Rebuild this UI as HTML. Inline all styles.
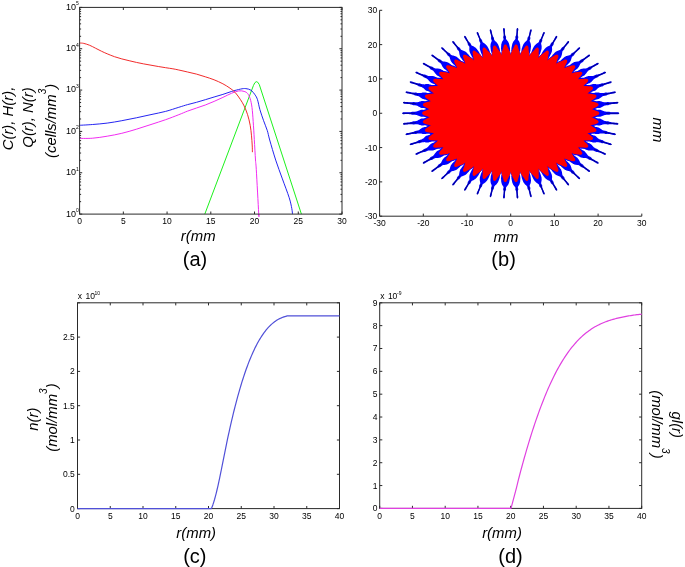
<!DOCTYPE html>
<html><head><meta charset="utf-8"><title>Figure</title>
<style>
html,body{margin:0;padding:0;background:#fff;}
body{width:685px;height:567px;overflow:hidden;}
svg{display:block;font-family:"Liberation Sans", sans-serif;will-change:transform;}
</style></head><body>
<svg width="685" height="567" viewBox="0 0 685 567" fill="#000">
<line x1="79.6" y1="214.1" x2="79.6" y2="211.5" stroke="#2a2a2a" stroke-width="1"/>
<line x1="79.6" y1="7.4" x2="79.6" y2="10" stroke="#2a2a2a" stroke-width="1"/>
<text x="79.6" y="224.2" font-size="8.5" text-anchor="middle">0</text>
<line x1="123.33" y1="214.1" x2="123.33" y2="211.5" stroke="#2a2a2a" stroke-width="1"/>
<line x1="123.33" y1="7.4" x2="123.33" y2="10" stroke="#2a2a2a" stroke-width="1"/>
<text x="123.33" y="224.2" font-size="8.5" text-anchor="middle">5</text>
<line x1="167.07" y1="214.1" x2="167.07" y2="211.5" stroke="#2a2a2a" stroke-width="1"/>
<line x1="167.07" y1="7.4" x2="167.07" y2="10" stroke="#2a2a2a" stroke-width="1"/>
<text x="167.07" y="224.2" font-size="8.5" text-anchor="middle">10</text>
<line x1="210.8" y1="214.1" x2="210.8" y2="211.5" stroke="#2a2a2a" stroke-width="1"/>
<line x1="210.8" y1="7.4" x2="210.8" y2="10" stroke="#2a2a2a" stroke-width="1"/>
<text x="210.8" y="224.2" font-size="8.5" text-anchor="middle">15</text>
<line x1="254.53" y1="214.1" x2="254.53" y2="211.5" stroke="#2a2a2a" stroke-width="1"/>
<line x1="254.53" y1="7.4" x2="254.53" y2="10" stroke="#2a2a2a" stroke-width="1"/>
<text x="254.53" y="224.2" font-size="8.5" text-anchor="middle">20</text>
<line x1="298.27" y1="214.1" x2="298.27" y2="211.5" stroke="#2a2a2a" stroke-width="1"/>
<line x1="298.27" y1="7.4" x2="298.27" y2="10" stroke="#2a2a2a" stroke-width="1"/>
<text x="298.27" y="224.2" font-size="8.5" text-anchor="middle">25</text>
<line x1="342" y1="214.1" x2="342" y2="211.5" stroke="#2a2a2a" stroke-width="1"/>
<line x1="342" y1="7.4" x2="342" y2="10" stroke="#2a2a2a" stroke-width="1"/>
<text x="342" y="224.2" font-size="8.5" text-anchor="middle">30</text>
<line x1="79.6" y1="214.1" x2="82.2" y2="214.1" stroke="#2a2a2a" stroke-width="1"/>
<line x1="342" y1="214.1" x2="339.4" y2="214.1" stroke="#2a2a2a" stroke-width="1"/>
<line x1="79.6" y1="201.66" x2="81.1" y2="201.66" stroke="#2a2a2a" stroke-width="1"/>
<line x1="342" y1="201.66" x2="340.5" y2="201.66" stroke="#2a2a2a" stroke-width="1"/>
<line x1="79.6" y1="194.38" x2="81.1" y2="194.38" stroke="#2a2a2a" stroke-width="1"/>
<line x1="342" y1="194.38" x2="340.5" y2="194.38" stroke="#2a2a2a" stroke-width="1"/>
<line x1="79.6" y1="189.21" x2="81.1" y2="189.21" stroke="#2a2a2a" stroke-width="1"/>
<line x1="342" y1="189.21" x2="340.5" y2="189.21" stroke="#2a2a2a" stroke-width="1"/>
<line x1="79.6" y1="185.2" x2="81.1" y2="185.2" stroke="#2a2a2a" stroke-width="1"/>
<line x1="342" y1="185.2" x2="340.5" y2="185.2" stroke="#2a2a2a" stroke-width="1"/>
<line x1="79.6" y1="181.93" x2="81.1" y2="181.93" stroke="#2a2a2a" stroke-width="1"/>
<line x1="342" y1="181.93" x2="340.5" y2="181.93" stroke="#2a2a2a" stroke-width="1"/>
<line x1="79.6" y1="179.16" x2="81.1" y2="179.16" stroke="#2a2a2a" stroke-width="1"/>
<line x1="342" y1="179.16" x2="340.5" y2="179.16" stroke="#2a2a2a" stroke-width="1"/>
<line x1="79.6" y1="176.77" x2="81.1" y2="176.77" stroke="#2a2a2a" stroke-width="1"/>
<line x1="342" y1="176.77" x2="340.5" y2="176.77" stroke="#2a2a2a" stroke-width="1"/>
<line x1="79.6" y1="174.65" x2="81.1" y2="174.65" stroke="#2a2a2a" stroke-width="1"/>
<line x1="342" y1="174.65" x2="340.5" y2="174.65" stroke="#2a2a2a" stroke-width="1"/>
<text x="75.9" y="216.5" font-size="9" text-anchor="end">10</text>
<text x="76.1" y="211.9" font-size="5" text-anchor="start">0</text>
<line x1="79.6" y1="172.76" x2="82.2" y2="172.76" stroke="#2a2a2a" stroke-width="1"/>
<line x1="342" y1="172.76" x2="339.4" y2="172.76" stroke="#2a2a2a" stroke-width="1"/>
<line x1="79.6" y1="160.32" x2="81.1" y2="160.32" stroke="#2a2a2a" stroke-width="1"/>
<line x1="342" y1="160.32" x2="340.5" y2="160.32" stroke="#2a2a2a" stroke-width="1"/>
<line x1="79.6" y1="153.04" x2="81.1" y2="153.04" stroke="#2a2a2a" stroke-width="1"/>
<line x1="342" y1="153.04" x2="340.5" y2="153.04" stroke="#2a2a2a" stroke-width="1"/>
<line x1="79.6" y1="147.87" x2="81.1" y2="147.87" stroke="#2a2a2a" stroke-width="1"/>
<line x1="342" y1="147.87" x2="340.5" y2="147.87" stroke="#2a2a2a" stroke-width="1"/>
<line x1="79.6" y1="143.86" x2="81.1" y2="143.86" stroke="#2a2a2a" stroke-width="1"/>
<line x1="342" y1="143.86" x2="340.5" y2="143.86" stroke="#2a2a2a" stroke-width="1"/>
<line x1="79.6" y1="140.59" x2="81.1" y2="140.59" stroke="#2a2a2a" stroke-width="1"/>
<line x1="342" y1="140.59" x2="340.5" y2="140.59" stroke="#2a2a2a" stroke-width="1"/>
<line x1="79.6" y1="137.82" x2="81.1" y2="137.82" stroke="#2a2a2a" stroke-width="1"/>
<line x1="342" y1="137.82" x2="340.5" y2="137.82" stroke="#2a2a2a" stroke-width="1"/>
<line x1="79.6" y1="135.43" x2="81.1" y2="135.43" stroke="#2a2a2a" stroke-width="1"/>
<line x1="342" y1="135.43" x2="340.5" y2="135.43" stroke="#2a2a2a" stroke-width="1"/>
<line x1="79.6" y1="133.31" x2="81.1" y2="133.31" stroke="#2a2a2a" stroke-width="1"/>
<line x1="342" y1="133.31" x2="340.5" y2="133.31" stroke="#2a2a2a" stroke-width="1"/>
<text x="75.9" y="175.16" font-size="9" text-anchor="end">10</text>
<text x="76.1" y="170.56" font-size="5" text-anchor="start">1</text>
<line x1="79.6" y1="131.42" x2="82.2" y2="131.42" stroke="#2a2a2a" stroke-width="1"/>
<line x1="342" y1="131.42" x2="339.4" y2="131.42" stroke="#2a2a2a" stroke-width="1"/>
<line x1="79.6" y1="118.98" x2="81.1" y2="118.98" stroke="#2a2a2a" stroke-width="1"/>
<line x1="342" y1="118.98" x2="340.5" y2="118.98" stroke="#2a2a2a" stroke-width="1"/>
<line x1="79.6" y1="111.7" x2="81.1" y2="111.7" stroke="#2a2a2a" stroke-width="1"/>
<line x1="342" y1="111.7" x2="340.5" y2="111.7" stroke="#2a2a2a" stroke-width="1"/>
<line x1="79.6" y1="106.53" x2="81.1" y2="106.53" stroke="#2a2a2a" stroke-width="1"/>
<line x1="342" y1="106.53" x2="340.5" y2="106.53" stroke="#2a2a2a" stroke-width="1"/>
<line x1="79.6" y1="102.52" x2="81.1" y2="102.52" stroke="#2a2a2a" stroke-width="1"/>
<line x1="342" y1="102.52" x2="340.5" y2="102.52" stroke="#2a2a2a" stroke-width="1"/>
<line x1="79.6" y1="99.25" x2="81.1" y2="99.25" stroke="#2a2a2a" stroke-width="1"/>
<line x1="342" y1="99.25" x2="340.5" y2="99.25" stroke="#2a2a2a" stroke-width="1"/>
<line x1="79.6" y1="96.48" x2="81.1" y2="96.48" stroke="#2a2a2a" stroke-width="1"/>
<line x1="342" y1="96.48" x2="340.5" y2="96.48" stroke="#2a2a2a" stroke-width="1"/>
<line x1="79.6" y1="94.09" x2="81.1" y2="94.09" stroke="#2a2a2a" stroke-width="1"/>
<line x1="342" y1="94.09" x2="340.5" y2="94.09" stroke="#2a2a2a" stroke-width="1"/>
<line x1="79.6" y1="91.97" x2="81.1" y2="91.97" stroke="#2a2a2a" stroke-width="1"/>
<line x1="342" y1="91.97" x2="340.5" y2="91.97" stroke="#2a2a2a" stroke-width="1"/>
<text x="75.9" y="133.82" font-size="9" text-anchor="end">10</text>
<text x="76.1" y="129.22" font-size="5" text-anchor="start">2</text>
<line x1="79.6" y1="90.08" x2="82.2" y2="90.08" stroke="#2a2a2a" stroke-width="1"/>
<line x1="342" y1="90.08" x2="339.4" y2="90.08" stroke="#2a2a2a" stroke-width="1"/>
<line x1="79.6" y1="77.64" x2="81.1" y2="77.64" stroke="#2a2a2a" stroke-width="1"/>
<line x1="342" y1="77.64" x2="340.5" y2="77.64" stroke="#2a2a2a" stroke-width="1"/>
<line x1="79.6" y1="70.36" x2="81.1" y2="70.36" stroke="#2a2a2a" stroke-width="1"/>
<line x1="342" y1="70.36" x2="340.5" y2="70.36" stroke="#2a2a2a" stroke-width="1"/>
<line x1="79.6" y1="65.19" x2="81.1" y2="65.19" stroke="#2a2a2a" stroke-width="1"/>
<line x1="342" y1="65.19" x2="340.5" y2="65.19" stroke="#2a2a2a" stroke-width="1"/>
<line x1="79.6" y1="61.18" x2="81.1" y2="61.18" stroke="#2a2a2a" stroke-width="1"/>
<line x1="342" y1="61.18" x2="340.5" y2="61.18" stroke="#2a2a2a" stroke-width="1"/>
<line x1="79.6" y1="57.91" x2="81.1" y2="57.91" stroke="#2a2a2a" stroke-width="1"/>
<line x1="342" y1="57.91" x2="340.5" y2="57.91" stroke="#2a2a2a" stroke-width="1"/>
<line x1="79.6" y1="55.14" x2="81.1" y2="55.14" stroke="#2a2a2a" stroke-width="1"/>
<line x1="342" y1="55.14" x2="340.5" y2="55.14" stroke="#2a2a2a" stroke-width="1"/>
<line x1="79.6" y1="52.75" x2="81.1" y2="52.75" stroke="#2a2a2a" stroke-width="1"/>
<line x1="342" y1="52.75" x2="340.5" y2="52.75" stroke="#2a2a2a" stroke-width="1"/>
<line x1="79.6" y1="50.63" x2="81.1" y2="50.63" stroke="#2a2a2a" stroke-width="1"/>
<line x1="342" y1="50.63" x2="340.5" y2="50.63" stroke="#2a2a2a" stroke-width="1"/>
<text x="75.9" y="92.48" font-size="9" text-anchor="end">10</text>
<text x="76.1" y="87.88" font-size="5" text-anchor="start">3</text>
<line x1="79.6" y1="48.74" x2="82.2" y2="48.74" stroke="#2a2a2a" stroke-width="1"/>
<line x1="342" y1="48.74" x2="339.4" y2="48.74" stroke="#2a2a2a" stroke-width="1"/>
<line x1="79.6" y1="36.3" x2="81.1" y2="36.3" stroke="#2a2a2a" stroke-width="1"/>
<line x1="342" y1="36.3" x2="340.5" y2="36.3" stroke="#2a2a2a" stroke-width="1"/>
<line x1="79.6" y1="29.02" x2="81.1" y2="29.02" stroke="#2a2a2a" stroke-width="1"/>
<line x1="342" y1="29.02" x2="340.5" y2="29.02" stroke="#2a2a2a" stroke-width="1"/>
<line x1="79.6" y1="23.85" x2="81.1" y2="23.85" stroke="#2a2a2a" stroke-width="1"/>
<line x1="342" y1="23.85" x2="340.5" y2="23.85" stroke="#2a2a2a" stroke-width="1"/>
<line x1="79.6" y1="19.84" x2="81.1" y2="19.84" stroke="#2a2a2a" stroke-width="1"/>
<line x1="342" y1="19.84" x2="340.5" y2="19.84" stroke="#2a2a2a" stroke-width="1"/>
<line x1="79.6" y1="16.57" x2="81.1" y2="16.57" stroke="#2a2a2a" stroke-width="1"/>
<line x1="342" y1="16.57" x2="340.5" y2="16.57" stroke="#2a2a2a" stroke-width="1"/>
<line x1="79.6" y1="13.8" x2="81.1" y2="13.8" stroke="#2a2a2a" stroke-width="1"/>
<line x1="342" y1="13.8" x2="340.5" y2="13.8" stroke="#2a2a2a" stroke-width="1"/>
<line x1="79.6" y1="11.41" x2="81.1" y2="11.41" stroke="#2a2a2a" stroke-width="1"/>
<line x1="342" y1="11.41" x2="340.5" y2="11.41" stroke="#2a2a2a" stroke-width="1"/>
<line x1="79.6" y1="9.29" x2="81.1" y2="9.29" stroke="#2a2a2a" stroke-width="1"/>
<line x1="342" y1="9.29" x2="340.5" y2="9.29" stroke="#2a2a2a" stroke-width="1"/>
<text x="75.9" y="51.14" font-size="9" text-anchor="end">10</text>
<text x="76.1" y="46.54" font-size="5" text-anchor="start">4</text>
<line x1="79.6" y1="7.4" x2="82.2" y2="7.4" stroke="#2a2a2a" stroke-width="1"/>
<line x1="342" y1="7.4" x2="339.4" y2="7.4" stroke="#2a2a2a" stroke-width="1"/>
<text x="75.9" y="9.8" font-size="9" text-anchor="end">10</text>
<text x="76.1" y="5.2" font-size="5" text-anchor="start">5</text>
<g fill="none" stroke-width="0.95" stroke-linejoin="round">
<path d="M204.8,214.1 L253.4,85.6 Q256.2,78.2 259.3,84.6 L301.4,214.1" stroke="#10f010"/>
<path d="M79.6,125.3 C81.77,125.17 88,124.87 92.6,124.5 C97.2,124.13 102.33,123.73 107.2,123.1 C112.07,122.47 116.93,121.58 121.8,120.7 C126.67,119.82 131.53,118.82 136.4,117.8 C141.27,116.78 146.13,115.67 151,114.6 C155.87,113.53 160.97,112.62 165.6,111.4 C170.23,110.18 175.13,108.43 178.8,107.3 C182.47,106.17 184.65,105.43 187.6,104.6 C190.55,103.77 193.55,103.12 196.5,102.3 C199.45,101.48 202.37,100.58 205.3,99.7 C208.23,98.82 211.17,97.88 214.1,97 C217.03,96.12 219.97,95.33 222.9,94.4 C225.83,93.47 228.77,92.28 231.7,91.4 C234.63,90.52 238.15,89.57 240.5,89.1 C242.85,88.63 244.03,88.4 245.8,88.6 C247.57,88.8 249.57,89.27 251.1,90.3 C252.63,91.33 253.93,93.23 255,94.8 C256.07,96.37 256.68,97.23 257.5,99.7 C258.32,102.17 258.88,106.1 259.9,109.6 C260.92,113.1 262.37,117.2 263.6,120.7 C264.83,124.2 266.28,127.38 267.3,130.6 C268.32,133.82 268.3,135.08 269.7,140 C271.1,144.92 273.58,153.62 275.7,160.1 C277.82,166.58 280.15,172.63 282.4,178.9 C284.65,185.17 287.63,192.77 289.2,197.7 C290.77,202.63 291.25,205.77 291.8,208.5 C292.35,211.23 292.38,213.17 292.5,214.1" stroke="#1818f0"/>
<path d="M79.6,138.4 C81.77,138.37 88,138.57 92.6,138.2 C97.2,137.83 102.33,137.02 107.2,136.2 C112.07,135.38 116.93,134.47 121.8,133.3 C126.67,132.13 131.53,130.67 136.4,129.2 C141.27,127.73 146.13,126.08 151,124.5 C155.87,122.92 160.97,121.33 165.6,119.7 C170.23,118.07 175.13,116.13 178.8,114.7 C182.47,113.27 184.65,112.22 187.6,111.1 C190.55,109.98 193.55,109.02 196.5,108 C199.45,106.98 202.37,106.1 205.3,105 C208.23,103.9 211.17,102.67 214.1,101.4 C217.03,100.13 219.97,98.77 222.9,97.4 C225.83,96.03 229.05,94.28 231.7,93.2 C234.35,92.12 236.73,91.2 238.8,90.9 C240.87,90.6 242.63,90.97 244.1,91.4 C245.57,91.83 246.58,92.27 247.6,93.5 C248.62,94.73 249.47,96.45 250.2,98.8 C250.93,101.15 251.5,103.78 252,107.6 C252.5,111.42 252.82,116.4 253.2,121.7 C253.58,127 253.92,133.02 254.3,139.4 C254.68,145.78 255.17,154.95 255.5,160 C255.83,165.05 255.77,160.82 256.3,169.7 C256.83,178.58 258.28,205.9 258.7,213.3 C259.12,220.7 258.78,213.97 258.8,214.1" stroke="#f020f0"/>
<path d="M79.6,43 C80.3,43.07 82.12,43.02 83.8,43.4 C85.48,43.78 87.75,44.5 89.7,45.3 C91.65,46.1 93.55,47.22 95.5,48.2 C97.45,49.18 99.45,50.27 101.4,51.2 C103.35,52.13 105.02,52.88 107.2,53.8 C109.38,54.72 112.07,55.85 114.5,56.7 C116.93,57.55 119.37,58.23 121.8,58.9 C124.23,59.57 126.67,60.12 129.1,60.7 C131.53,61.28 133.97,61.87 136.4,62.4 C138.83,62.93 141.27,63.43 143.7,63.9 C146.13,64.37 148.57,64.77 151,65.2 C153.43,65.63 155.87,66.08 158.3,66.5 C160.73,66.92 163.17,67.32 165.6,67.7 C168.03,68.08 170.7,68.42 172.9,68.8 C175.1,69.18 176.35,69.47 178.8,70 C181.25,70.53 184.65,71.32 187.6,72 C190.55,72.68 193.55,73.3 196.5,74.1 C199.45,74.9 202.37,75.85 205.3,76.8 C208.23,77.75 211.17,78.63 214.1,79.8 C217.03,80.97 220.25,82.4 222.9,83.8 C225.55,85.2 227.93,86.73 230,88.2 C232.07,89.67 233.55,90.68 235.3,92.6 C237.05,94.52 239.03,97.48 240.5,99.7 C241.97,101.92 242.92,103.4 244.1,105.9 C245.28,108.4 246.58,111.47 247.6,114.7 C248.62,117.93 249.55,121.78 250.2,125.3 C250.85,128.82 251.17,132.52 251.5,135.8 C251.83,139.08 252.05,142.27 252.2,145 C252.35,147.73 252.37,151 252.4,152.2" stroke="#f02020"/>
</g>
<rect x="79.6" y="7.4" width="262.4" height="206.7" fill="none" stroke="#2a2a2a" stroke-width="1"/>
<g transform="translate(0,0)" font-style="italic" font-size="14.9">
<text transform="translate(13,118.5) rotate(-90)" text-anchor="middle">C(r), H(r),</text>
<text transform="translate(32.5,117.5) rotate(-90)" text-anchor="middle">Q(r), N(r)</text>
<text transform="translate(55.5,120.9) rotate(-90)" text-anchor="middle">(cells/mm<tspan dy="-9.5" font-size="10">3</tspan><tspan dy="9.5">)</tspan></text>
</g>
<text x="198.2" y="240.7" font-size="14.9" text-anchor="middle" font-style="italic">r(mm</text>
<text x="195" y="265.6" font-size="20" text-anchor="middle">(a)</text>
<line x1="379.6" y1="216.2" x2="379.6" y2="213.6" stroke="#2a2a2a" stroke-width="1"/>
<text x="379.6" y="226.3" font-size="8.5" text-anchor="middle">-30</text>
<line x1="379.6" y1="216.2" x2="382.2" y2="216.2" stroke="#2a2a2a" stroke-width="1"/>
<text x="377.2" y="219.2" font-size="8.5" text-anchor="end">-30</text>
<line x1="423.3" y1="216.2" x2="423.3" y2="213.6" stroke="#2a2a2a" stroke-width="1"/>
<text x="423.3" y="226.3" font-size="8.5" text-anchor="middle">-20</text>
<line x1="379.6" y1="181.88" x2="382.2" y2="181.88" stroke="#2a2a2a" stroke-width="1"/>
<text x="377.2" y="184.88" font-size="8.5" text-anchor="end">-20</text>
<line x1="467" y1="216.2" x2="467" y2="213.6" stroke="#2a2a2a" stroke-width="1"/>
<text x="467" y="226.3" font-size="8.5" text-anchor="middle">-10</text>
<line x1="379.6" y1="147.57" x2="382.2" y2="147.57" stroke="#2a2a2a" stroke-width="1"/>
<text x="377.2" y="150.57" font-size="8.5" text-anchor="end">-10</text>
<line x1="510.7" y1="216.2" x2="510.7" y2="213.6" stroke="#2a2a2a" stroke-width="1"/>
<text x="510.7" y="226.3" font-size="8.5" text-anchor="middle">0</text>
<line x1="379.6" y1="113.25" x2="382.2" y2="113.25" stroke="#2a2a2a" stroke-width="1"/>
<text x="377.2" y="116.25" font-size="8.5" text-anchor="end">0</text>
<line x1="554.4" y1="216.2" x2="554.4" y2="213.6" stroke="#2a2a2a" stroke-width="1"/>
<text x="554.4" y="226.3" font-size="8.5" text-anchor="middle">10</text>
<line x1="379.6" y1="78.93" x2="382.2" y2="78.93" stroke="#2a2a2a" stroke-width="1"/>
<text x="377.2" y="81.93" font-size="8.5" text-anchor="end">10</text>
<line x1="598.1" y1="216.2" x2="598.1" y2="213.6" stroke="#2a2a2a" stroke-width="1"/>
<text x="598.1" y="226.3" font-size="8.5" text-anchor="middle">20</text>
<line x1="379.6" y1="44.62" x2="382.2" y2="44.62" stroke="#2a2a2a" stroke-width="1"/>
<text x="377.2" y="47.62" font-size="8.5" text-anchor="end">20</text>
<line x1="641.8" y1="216.2" x2="641.8" y2="213.6" stroke="#2a2a2a" stroke-width="1"/>
<text x="641.8" y="226.3" font-size="8.5" text-anchor="middle">30</text>
<line x1="379.6" y1="10.3" x2="382.2" y2="10.3" stroke="#2a2a2a" stroke-width="1"/>
<text x="377.2" y="13.3" font-size="8.5" text-anchor="end">30</text>
<line x1="379.6" y1="10.3" x2="379.6" y2="216.2" stroke="#2a2a2a" stroke-width="1"/>
<line x1="379.6" y1="216.2" x2="641.8" y2="216.2" stroke="#2a2a2a" stroke-width="1"/>
<path fill="#0000ff" d="M590.5,115.8 591.2,115.8 591.8,115.9 592.5,116.0 593.1,116.1 593.8,116.1 594.4,116.2 595.1,116.3 595.7,116.4 596.4,116.5 597.0,116.5 597.7,116.6 598.3,116.7 599.0,116.7 599.6,116.7 600.3,116.7 600.9,116.6 601.6,116.3 602.2,116.1 602.9,115.8 603.5,115.5 604.2,115.2 604.8,115.1 605.5,114.9 606.1,114.8 606.8,114.8 607.4,114.8 608.1,114.8 608.7,114.8 609.3,114.8 610.0,114.6 610.6,114.3 611.3,114.3 611.9,114.2 612.6,114.2 613.2,114.2 613.9,114.2 614.5,114.2 615.2,114.2 615.8,114.2 616.5,114.2 617.1,114.2 617.8,114.2 618.4,114.2 619.1,113.2 619.1,113.2 618.4,112.3 617.8,112.3 617.1,112.3 616.5,112.3 615.8,112.3 615.2,112.3 614.5,112.3 613.9,112.3 613.2,112.3 612.6,112.3 611.9,112.3 611.3,112.2 610.6,112.2 610.0,111.9 609.3,111.7 608.7,111.7 608.1,111.7 607.4,111.7 606.8,111.7 606.1,111.7 605.5,111.6 604.8,111.4 604.2,111.3 603.5,111.0 602.9,110.7 602.2,110.4 601.6,110.2 600.9,109.9 600.3,109.8 599.6,109.8 599.0,109.8 598.3,109.8 597.7,109.9 597.0,110.0 596.4,110.0 595.7,110.1 595.1,110.2 594.4,110.3 593.8,110.4 593.1,110.4 592.5,110.5 591.8,110.6 591.2,110.7 590.5,110.8Z M590.1,107.9 590.8,107.9 591.5,107.9 592.1,108.0 592.8,108.0 593.4,108.0 594.1,108.0 594.7,108.0 595.4,108.0 596.0,108.0 596.7,108.0 597.3,108.0 598.0,108.0 598.6,108.0 599.3,108.0 599.9,107.9 600.5,107.7 601.1,107.4 601.8,107.1 602.4,106.7 603.0,106.4 603.6,106.0 604.2,105.8 604.9,105.6 605.5,105.4 606.1,105.3 606.8,105.2 607.4,105.2 608.1,105.2 608.7,105.1 609.3,104.8 610.0,104.5 610.6,104.4 611.2,104.2 611.9,104.1 612.5,104.1 613.2,104.0 613.8,103.9 614.4,103.9 615.1,103.8 615.7,103.7 616.4,103.7 617.0,103.7 617.7,103.6 618.2,102.6 618.2,102.6 617.5,101.7 616.8,101.7 616.2,101.9 615.6,101.9 614.9,102.0 614.3,102.1 613.6,102.1 613.0,102.2 612.3,102.3 611.7,102.3 611.0,102.3 610.4,102.3 609.7,102.3 609.1,102.2 608.4,102.0 607.8,102.0 607.1,102.1 606.5,102.2 605.8,102.3 605.2,102.3 604.5,102.3 603.9,102.2 603.2,102.1 602.5,101.9 601.9,101.6 601.2,101.4 600.5,101.2 599.9,101.1 599.2,101.0 598.6,101.0 597.9,101.1 597.3,101.2 596.6,101.3 596.0,101.5 595.4,101.6 594.7,101.7 594.1,101.9 593.5,102.0 592.8,102.2 592.2,102.3 591.6,102.5 590.9,102.6 590.3,102.7 589.6,102.9Z M588.5,100.2 589.1,100.2 589.8,100.1 590.4,100.1 591.1,100.0 591.7,100.0 592.4,99.9 593.0,99.9 593.7,99.8 594.3,99.7 594.9,99.7 595.6,99.6 596.2,99.5 596.9,99.5 597.5,99.3 598.1,99.1 598.7,98.9 599.3,98.5 599.9,98.2 600.5,97.8 601.0,97.4 601.6,96.9 602.2,96.6 602.8,96.3 603.4,96.1 604.0,96.0 604.6,95.8 605.3,95.7 605.9,95.6 606.5,95.5 607.1,95.1 607.7,94.8 608.3,94.6 608.9,94.4 609.6,94.2 610.2,94.1 610.8,94.0 611.4,93.8 612.1,93.7 612.7,93.6 613.3,93.5 614.0,93.4 614.6,93.3 615.2,93.1 615.7,92.1 615.7,92.1 614.9,91.3 614.2,91.4 613.6,91.6 613.0,91.7 612.4,91.8 611.7,92.0 611.1,92.1 610.5,92.2 609.8,92.4 609.2,92.5 608.6,92.6 607.9,92.6 607.3,92.7 606.6,92.6 605.9,92.5 605.3,92.6 604.7,92.7 604.1,92.9 603.4,93.0 602.8,93.1 602.1,93.1 601.5,93.1 600.8,93.1 600.1,92.9 599.4,92.7 598.8,92.6 598.1,92.5 597.4,92.4 596.7,92.4 596.1,92.5 595.5,92.6 594.9,92.8 594.2,92.9 593.6,93.1 593.0,93.3 592.4,93.5 591.8,93.7 591.2,93.9 590.5,94.1 589.9,94.3 589.3,94.5 588.7,94.7 588.1,94.9 587.5,95.1Z M585.7,92.8 586.3,92.7 586.9,92.6 587.5,92.5 588.2,92.3 588.8,92.2 589.4,92.1 590.0,92.0 590.7,91.8 591.3,91.7 591.9,91.6 592.5,91.4 593.1,91.3 593.8,91.1 594.4,90.9 594.9,90.7 595.5,90.4 596.1,90.0 596.6,89.5 597.1,89.1 597.6,88.6 598.1,88.1 598.7,87.8 599.2,87.4 599.8,87.1 600.4,86.9 601.0,86.7 601.6,86.6 602.3,86.4 602.8,86.2 603.4,85.8 603.9,85.4 604.5,85.1 605.1,84.9 605.7,84.6 606.3,84.4 606.9,84.3 607.5,84.1 608.1,83.9 608.7,83.7 609.3,83.5 609.9,83.4 610.6,83.2 611.1,83.0 611.5,81.9 611.5,81.9 610.6,81.2 610.0,81.4 609.4,81.6 608.8,81.8 608.2,82.0 607.6,82.2 607.0,82.4 606.4,82.6 605.8,82.8 605.2,83.0 604.5,83.1 603.9,83.2 603.3,83.4 602.6,83.3 602.0,83.3 601.3,83.4 600.7,83.7 600.1,83.9 599.5,84.1 598.9,84.3 598.3,84.3 597.6,84.3 597.0,84.4 596.3,84.3 595.6,84.1 594.9,84.1 594.2,84.0 593.5,84.0 592.9,84.1 592.3,84.2 591.7,84.4 591.1,84.6 590.5,84.8 589.9,85.0 589.3,85.3 588.7,85.5 588.1,85.8 587.5,86.0 586.9,86.3 586.4,86.5 585.8,86.8 585.2,87.1 584.6,87.3 584.0,87.6Z M581.7,85.8 582.3,85.6 582.9,85.4 583.5,85.2 584.1,85.1 584.7,84.9 585.3,84.7 585.9,84.5 586.4,84.3 587.0,84.1 587.6,83.9 588.2,83.6 588.8,83.4 589.4,83.2 589.9,82.9 590.5,82.6 591.0,82.2 591.5,81.8 592.0,81.3 592.4,80.8 592.9,80.3 593.3,79.7 593.8,79.3 594.3,78.9 594.8,78.5 595.4,78.3 596.0,78.1 596.6,77.8 597.1,77.6 597.7,77.3 598.2,76.8 598.7,76.4 599.2,76.1 599.7,75.8 600.3,75.5 600.9,75.3 601.5,75.0 602.0,74.8 602.6,74.5 603.2,74.3 603.8,74.0 604.3,73.8 604.9,73.6 605.5,73.3 605.7,72.2 605.7,72.2 604.8,71.6 604.2,71.8 603.6,72.1 603.0,72.4 602.5,72.7 601.9,72.9 601.3,73.2 600.8,73.4 600.2,73.7 599.6,73.9 599.0,74.1 598.4,74.3 597.8,74.5 597.2,74.6 596.5,74.6 595.9,74.8 595.4,75.1 594.8,75.3 594.2,75.6 593.7,75.8 593.1,76.0 592.4,76.1 591.7,76.1 591.0,76.1 590.4,76.0 589.7,76.0 589.0,76.0 588.3,76.1 587.7,76.2 587.1,76.4 586.5,76.6 586.0,76.9 585.4,77.1 584.8,77.4 584.3,77.7 583.7,78.0 583.2,78.3 582.6,78.6 582.1,78.9 581.5,79.2 581.0,79.5 580.4,79.8 579.9,80.1 579.3,80.4Z M576.6,79.3 577.2,79.0 577.8,78.8 578.3,78.5 578.9,78.2 579.4,78.0 580.0,77.7 580.5,77.5 581.1,77.2 581.6,76.9 582.2,76.6 582.7,76.3 583.2,76.1 583.8,75.8 584.3,75.4 584.8,75.0 585.2,74.6 585.6,74.1 586.1,73.6 586.5,73.0 586.8,72.5 587.2,71.9 587.6,71.4 588.0,70.9 588.5,70.5 589.1,70.2 589.6,69.9 590.1,69.7 590.7,69.4 591.2,69.0 591.6,68.5 592.0,68.0 592.5,67.6 593.0,67.3 593.5,67.0 594.0,66.7 594.6,66.4 595.1,66.1 595.6,65.8 596.2,65.5 596.7,65.2 597.3,64.9 597.8,64.7 598.3,64.3 598.4,63.2 598.4,63.2 597.4,62.7 596.9,63.0 596.4,63.3 595.8,63.7 595.3,64.0 594.8,64.3 594.3,64.6 593.7,64.9 593.2,65.2 592.7,65.5 592.1,65.8 591.6,66.0 591.0,66.3 590.4,66.4 589.8,66.5 589.2,66.7 588.6,67.0 588.1,67.4 587.6,67.7 587.1,68.0 586.5,68.2 585.9,68.4 585.2,68.5 584.5,68.5 583.9,68.5 583.2,68.6 582.5,68.7 581.9,68.8 581.3,68.9 580.7,69.1 580.2,69.4 579.6,69.7 579.1,70.0 578.6,70.3 578.1,70.7 577.6,71.0 577.0,71.3 576.5,71.7 576.0,72.0 575.5,72.4 575.0,72.7 574.5,73.1 574.0,73.4 573.5,73.8Z M570.7,73.2 571.2,72.9 571.7,72.6 572.2,72.3 572.7,72.0 573.2,71.7 573.7,71.4 574.2,71.0 574.7,70.7 575.2,70.3 575.7,70.0 576.1,69.6 576.6,69.3 577.1,68.9 577.5,68.5 577.9,68.1 578.3,67.6 578.7,67.1 579.0,66.5 579.3,65.9 579.6,65.3 579.9,64.7 580.2,64.1 580.6,63.6 581.0,63.2 581.5,62.8 582.0,62.5 582.5,62.2 583.0,61.8 583.4,61.4 583.7,60.8 584.1,60.3 584.5,59.9 585.0,59.5 585.4,59.2 585.9,58.8 586.4,58.5 586.9,58.1 587.3,57.8 587.8,57.4 588.3,57.1 588.8,56.8 589.3,56.5 589.8,56.0 589.7,55.0 589.7,55.0 588.7,54.6 588.2,54.9 587.7,55.3 587.3,55.7 586.8,56.0 586.4,56.4 585.9,56.8 585.4,57.1 584.9,57.5 584.5,57.9 584.0,58.2 583.5,58.5 582.9,58.8 582.4,59.0 581.7,59.2 581.2,59.4 580.7,59.8 580.2,60.2 579.8,60.5 579.3,60.9 578.8,61.2 578.2,61.4 577.5,61.5 576.9,61.6 576.2,61.7 575.5,61.8 574.9,62.0 574.3,62.1 573.7,62.4 573.2,62.6 572.7,62.9 572.2,63.3 571.7,63.6 571.2,64.0 570.7,64.3 570.3,64.7 569.8,65.1 569.3,65.4 568.9,65.8 568.4,66.2 568.0,66.6 567.5,67.0 567.1,67.4 566.6,67.8Z M563.8,67.8 564.3,67.5 564.7,67.1 565.2,66.7 565.6,66.4 566.1,66.0 566.5,65.6 566.9,65.2 567.3,64.8 567.8,64.4 568.2,64.0 568.6,63.6 569.0,63.2 569.4,62.8 569.7,62.3 570.1,61.8 570.4,61.3 570.7,60.7 570.9,60.2 571.1,59.5 571.3,58.9 571.5,58.2 571.7,57.6 572.0,57.1 572.3,56.6 572.8,56.2 573.2,55.9 573.7,55.5 574.1,55.1 574.4,54.6 574.7,54.0 575.0,53.5 575.4,53.0 575.7,52.6 576.1,52.2 576.6,51.8 577.0,51.4 577.4,51.0 577.8,50.6 578.3,50.3 578.7,49.9 579.2,49.5 579.6,49.1 580.0,48.7 579.8,47.6 579.8,47.6 578.8,47.4 578.3,47.7 577.9,48.2 577.5,48.6 577.1,49.0 576.7,49.5 576.3,49.9 575.9,50.3 575.5,50.7 575.1,51.1 574.6,51.4 574.2,51.8 573.7,52.2 573.2,52.5 572.6,52.7 572.1,52.9 571.6,53.3 571.2,53.8 570.9,54.2 570.5,54.7 570.0,55.0 569.4,55.2 568.8,55.4 568.1,55.5 567.5,55.7 566.9,55.9 566.3,56.1 565.7,56.4 565.2,56.6 564.6,56.9 564.2,57.3 563.7,57.7 563.3,58.0 562.9,58.4 562.4,58.8 562.0,59.2 561.6,59.6 561.2,60.0 560.8,60.4 560.4,60.9 560.0,61.3 559.6,61.7 559.2,62.2 558.8,62.6Z M556.2,63.1 556.6,62.7 557.0,62.2 557.3,61.8 557.7,61.4 558.1,61.0 558.5,60.6 558.8,60.1 559.2,59.7 559.5,59.2 559.8,58.8 560.1,58.3 560.5,57.8 560.8,57.4 561.1,56.9 561.3,56.3 561.5,55.8 561.7,55.2 561.9,54.6 562.0,54.0 562.1,53.3 562.2,52.7 562.3,52.0 562.4,51.4 562.7,51.0 563.1,50.6 563.5,50.2 563.9,49.7 564.3,49.3 564.5,48.7 564.6,48.1 564.9,47.6 565.2,47.1 565.5,46.7 565.8,46.2 566.2,45.8 566.6,45.4 566.9,44.9 567.3,44.5 567.7,44.1 568.1,43.7 568.5,43.2 568.8,42.8 569.1,42.3 568.8,41.4 568.8,41.4 567.8,41.2 567.4,41.6 567.0,42.1 566.7,42.6 566.4,43.0 566.1,43.5 565.7,43.9 565.4,44.4 565.0,44.8 564.7,45.3 564.3,45.7 563.9,46.1 563.5,46.5 563.0,46.9 562.5,47.1 562.0,47.4 561.6,47.9 561.3,48.3 561.0,48.8 560.7,49.3 560.3,49.7 559.7,50.0 559.1,50.2 558.5,50.4 557.9,50.7 557.3,50.9 556.7,51.2 556.2,51.5 555.7,51.8 555.2,52.2 554.8,52.6 554.4,53.0 554.0,53.4 553.7,53.8 553.3,54.2 552.9,54.6 552.5,55.1 552.2,55.5 551.8,55.9 551.5,56.4 551.2,56.9 550.9,57.3 550.5,57.8 550.2,58.2Z M547.9,59.0 548.2,58.6 548.5,58.1 548.8,57.7 549.1,57.2 549.5,56.8 549.7,56.3 550.0,55.8 550.2,55.3 550.5,54.8 550.7,54.3 551.0,53.8 551.2,53.3 551.4,52.8 551.6,52.3 551.8,51.7 551.9,51.2 552.0,50.6 552.1,50.0 552.1,49.4 552.1,48.7 552.0,48.0 552.0,47.4 552.1,46.8 552.3,46.3 552.7,45.9 553.0,45.4 553.3,45.0 553.6,44.5 553.7,43.9 553.8,43.3 553.9,42.7 554.2,42.3 554.4,41.8 554.7,41.3 555.0,40.8 555.3,40.4 555.6,39.9 555.8,39.4 556.2,39.0 556.5,38.5 556.8,38.1 557.1,37.6 557.3,37.1 556.9,36.2 556.9,36.2 555.9,36.2 555.5,36.6 555.2,37.1 555.0,37.6 554.8,38.1 554.5,38.6 554.2,39.1 554.0,39.6 553.7,40.1 553.4,40.5 553.1,41.0 552.8,41.5 552.5,41.9 552.1,42.3 551.6,42.6 551.1,43.0 550.8,43.5 550.6,43.9 550.3,44.5 550.1,45.0 549.8,45.4 549.3,45.7 548.7,46.1 548.1,46.3 547.5,46.6 547.0,46.9 546.5,47.3 546.0,47.6 545.6,48.0 545.1,48.4 544.8,48.8 544.4,49.3 544.1,49.7 543.8,50.1 543.5,50.6 543.1,51.1 542.8,51.5 542.5,52.0 542.2,52.4 542.0,52.9 541.7,53.4 541.5,53.9 541.2,54.4 541.0,54.9Z M539.0,55.7 539.3,55.2 539.5,54.8 539.7,54.3 540.0,53.8 540.2,53.3 540.4,52.8 540.6,52.3 540.7,51.8 540.9,51.3 541.0,50.7 541.2,50.2 541.3,49.7 541.5,49.2 541.6,48.6 541.6,48.1 541.6,47.5 541.7,46.9 541.6,46.3 541.6,45.7 541.4,45.1 541.3,44.4 541.2,43.8 541.1,43.2 541.3,42.7 541.6,42.2 541.8,41.7 542.1,41.3 542.3,40.8 542.2,40.2 542.2,39.6 542.3,39.0 542.4,38.5 542.6,38.0 542.8,37.5 543.0,37.0 543.3,36.5 543.5,36.0 543.7,35.5 543.9,35.0 544.2,34.6 544.4,34.1 544.7,33.6 544.8,33.1 544.2,32.3 544.2,32.3 543.2,32.4 542.9,32.9 542.8,33.4 542.6,33.9 542.4,34.4 542.3,34.9 542.1,35.4 541.9,35.9 541.7,36.4 541.5,36.9 541.3,37.4 541.0,37.9 540.8,38.4 540.5,38.9 540.0,39.3 539.6,39.7 539.4,40.1 539.2,40.7 539.1,41.2 538.9,41.7 538.7,42.2 538.2,42.6 537.7,42.9 537.1,43.3 536.6,43.7 536.1,44.0 535.7,44.4 535.3,44.9 534.9,45.3 534.5,45.7 534.2,46.2 533.9,46.6 533.7,47.1 533.4,47.6 533.1,48.0 532.9,48.5 532.6,49.0 532.4,49.5 532.2,50.0 532.0,50.5 531.8,51.0 531.6,51.5 531.5,52.0 531.3,52.5Z M529.7,53.2 529.9,52.7 530.0,52.2 530.2,51.7 530.3,51.2 530.5,50.7 530.6,50.2 530.6,49.6 530.7,49.1 530.8,48.6 530.8,48.1 530.9,47.5 530.9,47.0 531.0,46.5 531.0,45.9 530.9,45.4 530.9,44.8 530.8,44.2 530.7,43.7 530.5,43.1 530.3,42.5 530.0,41.9 529.8,41.3 529.7,40.7 529.7,40.2 530.0,39.7 530.2,39.2 530.3,38.7 530.4,38.2 530.3,37.6 530.2,37.0 530.1,36.5 530.2,35.9 530.4,35.4 530.5,34.9 530.6,34.4 530.7,33.9 530.9,33.4 531.0,32.9 531.2,32.4 531.4,31.8 531.5,31.3 531.7,30.8 531.7,30.3 531.0,29.6 531.0,29.6 530.1,29.9 529.9,30.4 529.8,30.9 529.7,31.4 529.6,32.0 529.5,32.5 529.4,33.0 529.3,33.5 529.2,34.0 529.1,34.6 528.9,35.1 528.8,35.6 528.7,36.1 528.4,36.6 528.0,37.0 527.6,37.5 527.5,38.0 527.4,38.5 527.3,39.0 527.3,39.6 527.1,40.1 526.7,40.5 526.3,41.0 525.8,41.4 525.3,41.8 524.9,42.3 524.5,42.7 524.2,43.2 523.9,43.6 523.6,44.1 523.3,44.6 523.1,45.1 522.9,45.6 522.7,46.1 522.5,46.6 522.3,47.1 522.2,47.6 522.0,48.1 521.8,48.6 521.7,49.1 521.6,49.6 521.5,50.2 521.4,50.7 521.3,51.2Z M520.0,51.6 520.1,51.1 520.2,50.6 520.2,50.0 520.3,49.5 520.3,49.0 520.4,48.5 520.4,47.9 520.3,47.4 520.3,46.9 520.3,46.4 520.2,45.8 520.2,45.3 520.2,44.8 520.1,44.2 519.9,43.7 519.8,43.2 519.6,42.6 519.4,42.1 519.2,41.5 518.8,41.0 518.5,40.4 518.1,39.9 517.9,39.3 517.9,38.8 518.1,38.3 518.2,37.8 518.3,37.3 518.3,36.7 518.0,36.2 517.8,35.6 517.7,35.1 517.7,34.6 517.8,34.1 517.8,33.5 517.8,33.0 517.9,32.5 518.0,32.0 518.0,31.4 518.1,30.9 518.2,30.4 518.3,29.9 518.4,29.4 518.3,28.8 517.5,28.2 517.5,28.2 516.6,28.7 516.5,29.2 516.5,29.7 516.5,30.3 516.5,30.8 516.5,31.3 516.5,31.8 516.5,32.4 516.4,32.9 516.4,33.4 516.3,33.9 516.3,34.5 516.2,35.0 516.0,35.5 515.7,36.0 515.4,36.5 515.3,37.0 515.3,37.5 515.4,38.1 515.4,38.6 515.3,39.1 515.0,39.6 514.6,40.1 514.2,40.6 513.8,41.1 513.4,41.6 513.1,42.1 512.9,42.6 512.7,43.1 512.4,43.6 512.3,44.1 512.1,44.7 512.0,45.2 511.9,45.7 511.8,46.2 511.7,46.7 511.6,47.2 511.5,47.8 511.4,48.3 511.4,48.8 511.4,49.3 511.3,49.9 511.3,50.4 511.3,50.9Z M510.1,50.9 510.1,50.4 510.1,49.9 510.0,49.3 510.0,48.8 510.0,48.3 509.9,47.8 509.8,47.2 509.7,46.7 509.6,46.2 509.5,45.7 509.4,45.2 509.3,44.7 509.1,44.1 509.0,43.6 508.7,43.1 508.5,42.6 508.3,42.1 508.0,41.6 507.6,41.1 507.2,40.6 506.8,40.1 506.4,39.6 506.1,39.1 506.0,38.6 506.0,38.1 506.1,37.5 506.1,37.0 506.0,36.5 505.7,36.0 505.4,35.5 505.2,35.0 505.1,34.5 505.1,33.9 505.0,33.4 505.0,32.9 504.9,32.4 504.9,31.8 504.9,31.3 504.9,30.8 504.9,30.3 504.9,29.7 504.9,29.2 504.8,28.7 503.9,28.2 503.9,28.2 503.1,28.8 503.0,29.4 503.1,29.9 503.2,30.4 503.3,30.9 503.4,31.4 503.4,32.0 503.5,32.5 503.6,33.0 503.6,33.5 503.6,34.1 503.7,34.6 503.7,35.1 503.6,35.6 503.4,36.2 503.1,36.7 503.1,37.3 503.2,37.8 503.3,38.3 503.5,38.8 503.5,39.3 503.3,39.9 502.9,40.4 502.6,41.0 502.2,41.5 502.0,42.1 501.8,42.6 501.6,43.2 501.5,43.7 501.3,44.2 501.2,44.8 501.2,45.3 501.2,45.8 501.1,46.4 501.1,46.9 501.1,47.4 501.0,47.9 501.0,48.5 501.1,49.0 501.1,49.5 501.2,50.0 501.2,50.6 501.3,51.1 501.4,51.6Z M500.1,51.2 500.0,50.7 499.9,50.2 499.8,49.6 499.7,49.1 499.6,48.6 499.4,48.1 499.2,47.6 499.1,47.1 498.9,46.6 498.7,46.1 498.5,45.6 498.3,45.1 498.1,44.6 497.8,44.1 497.5,43.6 497.2,43.2 496.9,42.7 496.5,42.3 496.1,41.8 495.6,41.4 495.1,41.0 494.7,40.5 494.3,40.1 494.1,39.6 494.1,39.0 494.0,38.5 493.9,38.0 493.8,37.5 493.4,37.0 493.0,36.6 492.7,36.1 492.6,35.6 492.5,35.1 492.3,34.6 492.2,34.0 492.1,33.5 492.0,33.0 491.9,32.5 491.8,32.0 491.7,31.4 491.6,30.9 491.5,30.4 491.3,29.9 490.4,29.6 490.4,29.6 489.7,30.3 489.7,30.8 489.9,31.3 490.0,31.8 490.2,32.4 490.4,32.9 490.5,33.4 490.7,33.9 490.8,34.4 490.9,34.9 491.0,35.4 491.2,35.9 491.3,36.5 491.2,37.0 491.1,37.6 491.0,38.2 491.1,38.7 491.2,39.2 491.4,39.7 491.7,40.2 491.7,40.7 491.6,41.3 491.4,41.9 491.1,42.5 490.9,43.1 490.7,43.7 490.6,44.2 490.5,44.8 490.5,45.4 490.4,45.9 490.4,46.5 490.5,47.0 490.5,47.5 490.6,48.1 490.6,48.6 490.7,49.1 490.8,49.6 490.8,50.2 490.9,50.7 491.1,51.2 491.2,51.7 491.4,52.2 491.5,52.7 491.7,53.2Z M490.1,52.5 489.9,52.0 489.8,51.5 489.6,51.0 489.4,50.5 489.2,50.0 489.0,49.5 488.8,49.0 488.5,48.5 488.3,48.0 488.0,47.6 487.7,47.1 487.5,46.6 487.2,46.2 486.9,45.7 486.5,45.3 486.1,44.9 485.7,44.4 485.3,44.0 484.8,43.7 484.3,43.3 483.7,42.9 483.2,42.6 482.7,42.2 482.5,41.7 482.3,41.2 482.2,40.7 482.0,40.1 481.8,39.7 481.4,39.3 480.9,38.9 480.6,38.4 480.4,37.9 480.1,37.4 479.9,36.9 479.7,36.4 479.5,35.9 479.3,35.4 479.1,34.9 479.0,34.4 478.8,33.9 478.6,33.4 478.5,32.9 478.2,32.4 477.2,32.3 477.2,32.3 476.6,33.1 476.7,33.6 477.0,34.1 477.2,34.6 477.5,35.0 477.7,35.5 477.9,36.0 478.1,36.5 478.4,37.0 478.6,37.5 478.8,38.0 479.0,38.5 479.1,39.0 479.2,39.6 479.2,40.2 479.1,40.8 479.3,41.3 479.6,41.7 479.8,42.2 480.1,42.7 480.3,43.2 480.2,43.8 480.1,44.4 480.0,45.1 479.8,45.7 479.8,46.3 479.7,46.9 479.8,47.5 479.8,48.1 479.8,48.6 479.9,49.2 480.1,49.7 480.2,50.2 480.4,50.7 480.5,51.3 480.7,51.8 480.8,52.3 481.0,52.8 481.2,53.3 481.4,53.8 481.7,54.3 481.9,54.8 482.1,55.2 482.4,55.7Z M480.4,54.9 480.2,54.4 479.9,53.9 479.7,53.4 479.4,52.9 479.2,52.4 478.9,52.0 478.6,51.5 478.3,51.1 477.9,50.6 477.6,50.1 477.3,49.7 477.0,49.3 476.6,48.8 476.3,48.4 475.8,48.0 475.4,47.6 474.9,47.3 474.4,46.9 473.9,46.6 473.3,46.3 472.7,46.1 472.1,45.7 471.6,45.4 471.3,45.0 471.1,44.5 470.8,43.9 470.6,43.5 470.3,43.0 469.8,42.6 469.3,42.3 468.9,41.9 468.6,41.5 468.3,41.0 468.0,40.5 467.7,40.1 467.4,39.6 467.2,39.1 466.9,38.6 466.6,38.1 466.4,37.6 466.2,37.1 465.9,36.6 465.5,36.2 464.5,36.2 464.5,36.2 464.1,37.1 464.3,37.6 464.6,38.1 464.9,38.5 465.2,39.0 465.6,39.4 465.8,39.9 466.1,40.4 466.4,40.8 466.7,41.3 467.0,41.8 467.2,42.3 467.5,42.7 467.6,43.3 467.7,43.9 467.8,44.5 468.1,45.0 468.4,45.4 468.7,45.9 469.1,46.3 469.3,46.8 469.4,47.4 469.4,48.0 469.3,48.7 469.3,49.4 469.3,50.0 469.4,50.6 469.5,51.2 469.6,51.7 469.8,52.3 470.0,52.8 470.2,53.3 470.4,53.8 470.7,54.3 470.9,54.8 471.2,55.3 471.4,55.8 471.7,56.3 471.9,56.8 472.3,57.2 472.6,57.7 472.9,58.1 473.2,58.6 473.5,59.0Z M471.2,58.2 470.9,57.8 470.5,57.3 470.2,56.9 469.9,56.4 469.6,55.9 469.2,55.5 468.9,55.1 468.5,54.6 468.1,54.2 467.7,53.8 467.4,53.4 467.0,53.0 466.6,52.6 466.2,52.2 465.7,51.8 465.2,51.5 464.7,51.2 464.1,50.9 463.5,50.7 462.9,50.4 462.3,50.2 461.7,50.0 461.1,49.7 460.7,49.3 460.4,48.8 460.1,48.3 459.8,47.9 459.4,47.4 458.9,47.1 458.4,46.9 457.9,46.5 457.5,46.1 457.1,45.7 456.7,45.3 456.4,44.8 456.0,44.4 455.7,43.9 455.3,43.5 455.0,43.0 454.7,42.6 454.4,42.1 454.0,41.6 453.6,41.2 452.6,41.4 452.6,41.4 452.3,42.3 452.6,42.8 452.9,43.2 453.3,43.7 453.7,44.1 454.1,44.5 454.5,44.9 454.8,45.4 455.2,45.8 455.6,46.2 455.9,46.7 456.2,47.1 456.5,47.6 456.8,48.1 456.9,48.7 457.1,49.3 457.5,49.7 457.9,50.2 458.3,50.6 458.7,51.0 459.0,51.4 459.1,52.0 459.2,52.7 459.3,53.3 459.4,54.0 459.5,54.6 459.7,55.2 459.9,55.8 460.1,56.3 460.3,56.9 460.6,57.4 460.9,57.8 461.3,58.3 461.6,58.8 461.9,59.2 462.2,59.7 462.6,60.1 462.9,60.6 463.3,61.0 463.7,61.4 464.1,61.8 464.4,62.2 464.8,62.7 465.2,63.1Z M462.6,62.6 462.2,62.2 461.8,61.7 461.4,61.3 461.0,60.9 460.6,60.4 460.2,60.0 459.8,59.6 459.4,59.2 459.0,58.8 458.5,58.4 458.1,58.0 457.7,57.7 457.2,57.3 456.8,56.9 456.2,56.6 455.7,56.4 455.1,56.1 454.5,55.9 453.9,55.7 453.3,55.5 452.6,55.4 452.0,55.2 451.4,55.0 450.9,54.7 450.5,54.2 450.2,53.8 449.8,53.3 449.3,52.9 448.8,52.7 448.2,52.5 447.7,52.2 447.2,51.8 446.8,51.4 446.3,51.1 445.9,50.7 445.5,50.3 445.1,49.9 444.7,49.5 444.3,49.0 443.9,48.6 443.5,48.2 443.1,47.7 442.6,47.4 441.6,47.6 441.6,47.6 441.4,48.7 441.8,49.1 442.2,49.5 442.7,49.9 443.1,50.3 443.6,50.6 444.0,51.0 444.4,51.4 444.8,51.8 445.3,52.2 445.7,52.6 446.0,53.0 446.4,53.5 446.7,54.0 447.0,54.6 447.3,55.1 447.7,55.5 448.2,55.9 448.6,56.2 449.1,56.6 449.4,57.1 449.7,57.6 449.9,58.2 450.1,58.9 450.3,59.5 450.5,60.2 450.7,60.7 451.0,61.3 451.3,61.8 451.7,62.3 452.0,62.8 452.4,63.2 452.8,63.6 453.2,64.0 453.6,64.4 454.1,64.8 454.5,65.2 454.9,65.6 455.3,66.0 455.8,66.4 456.2,66.7 456.7,67.1 457.1,67.5 457.6,67.8Z M454.8,67.8 454.3,67.4 453.9,67.0 453.4,66.6 453.0,66.2 452.5,65.8 452.1,65.4 451.6,65.1 451.1,64.7 450.7,64.3 450.2,64.0 449.7,63.6 449.2,63.3 448.7,62.9 448.2,62.6 447.7,62.4 447.1,62.1 446.5,62.0 445.9,61.8 445.2,61.7 444.5,61.6 443.9,61.5 443.2,61.4 442.6,61.2 442.1,60.9 441.6,60.5 441.2,60.2 440.7,59.8 440.2,59.4 439.7,59.2 439.0,59.0 438.5,58.8 437.9,58.5 437.4,58.2 436.9,57.9 436.5,57.5 436.0,57.1 435.5,56.8 435.0,56.4 434.6,56.0 434.1,55.7 433.7,55.3 433.2,54.9 432.7,54.6 431.7,55.0 431.7,55.0 431.6,56.0 432.1,56.5 432.6,56.8 433.1,57.1 433.6,57.4 434.1,57.8 434.5,58.1 435.0,58.5 435.5,58.8 436.0,59.2 436.4,59.5 436.9,59.9 437.3,60.3 437.7,60.8 438.0,61.4 438.4,61.8 438.9,62.2 439.4,62.5 439.9,62.8 440.4,63.2 440.8,63.6 441.2,64.1 441.5,64.7 441.8,65.3 442.1,65.9 442.4,66.5 442.7,67.1 443.1,67.6 443.5,68.1 443.9,68.5 444.3,68.9 444.8,69.3 445.3,69.6 445.7,70.0 446.2,70.3 446.7,70.7 447.2,71.0 447.7,71.4 448.2,71.7 448.7,72.0 449.2,72.3 449.7,72.6 450.2,72.9 450.7,73.2Z M447.9,73.8 447.4,73.4 446.9,73.1 446.4,72.7 445.9,72.4 445.4,72.0 444.9,71.7 444.4,71.3 443.8,71.0 443.3,70.7 442.8,70.3 442.3,70.0 441.8,69.7 441.2,69.4 440.7,69.1 440.1,68.9 439.5,68.8 438.9,68.7 438.2,68.6 437.5,68.5 436.9,68.5 436.2,68.5 435.5,68.4 434.9,68.2 434.3,68.0 433.8,67.7 433.3,67.4 432.8,67.0 432.2,66.7 431.6,66.5 431.0,66.4 430.4,66.3 429.8,66.0 429.3,65.8 428.7,65.5 428.2,65.2 427.7,64.9 427.1,64.6 426.6,64.3 426.1,64.0 425.6,63.7 425.0,63.3 424.5,63.0 424.0,62.7 423.0,63.2 423.0,63.2 423.1,64.3 423.6,64.7 424.1,64.9 424.7,65.2 425.2,65.5 425.8,65.8 426.3,66.1 426.8,66.4 427.4,66.7 427.9,67.0 428.4,67.3 428.9,67.6 429.4,68.0 429.8,68.5 430.2,69.0 430.7,69.4 431.3,69.7 431.8,69.9 432.3,70.2 432.9,70.5 433.4,70.9 433.8,71.4 434.2,71.9 434.6,72.5 434.9,73.0 435.3,73.6 435.8,74.1 436.2,74.6 436.6,75.0 437.1,75.4 437.6,75.8 438.2,76.1 438.7,76.3 439.2,76.6 439.8,76.9 440.3,77.2 440.9,77.5 441.4,77.7 442.0,78.0 442.5,78.2 443.1,78.5 443.6,78.8 444.2,79.0 444.8,79.3Z M442.1,80.4 441.5,80.1 441.0,79.8 440.4,79.5 439.9,79.2 439.3,78.9 438.8,78.6 438.2,78.3 437.7,78.0 437.1,77.7 436.6,77.4 436.0,77.1 435.4,76.9 434.9,76.6 434.3,76.4 433.7,76.2 433.1,76.1 432.4,76.0 431.7,76.0 431.0,76.0 430.4,76.1 429.7,76.1 429.0,76.1 428.3,76.0 427.7,75.8 427.2,75.6 426.6,75.3 426.0,75.1 425.5,74.8 424.9,74.6 424.2,74.6 423.6,74.5 423.0,74.3 422.4,74.1 421.8,73.9 421.2,73.7 420.6,73.4 420.1,73.2 419.5,72.9 418.9,72.7 418.4,72.4 417.8,72.1 417.2,71.8 416.6,71.6 415.7,72.2 415.7,72.2 415.9,73.3 416.5,73.6 417.1,73.8 417.6,74.0 418.2,74.3 418.8,74.5 419.4,74.8 419.9,75.0 420.5,75.3 421.1,75.5 421.7,75.8 422.2,76.1 422.7,76.4 423.2,76.8 423.7,77.3 424.3,77.6 424.8,77.8 425.4,78.1 426.0,78.3 426.6,78.5 427.1,78.9 427.6,79.3 428.1,79.7 428.5,80.3 429.0,80.8 429.4,81.3 429.9,81.8 430.4,82.2 430.9,82.6 431.5,82.9 432.0,83.2 432.6,83.4 433.2,83.6 433.8,83.9 434.4,84.1 435.0,84.3 435.5,84.5 436.1,84.7 436.7,84.9 437.3,85.1 437.9,85.2 438.5,85.4 439.1,85.6 439.7,85.8Z M437.4,87.6 436.8,87.3 436.2,87.1 435.6,86.8 435.0,86.5 434.5,86.3 433.9,86.0 433.3,85.8 432.7,85.5 432.1,85.3 431.5,85.0 430.9,84.8 430.3,84.6 429.7,84.4 429.1,84.2 428.5,84.1 427.9,84.0 427.2,84.0 426.5,84.1 425.8,84.1 425.1,84.3 424.4,84.4 423.8,84.3 423.1,84.3 422.5,84.3 421.9,84.1 421.3,83.9 420.7,83.7 420.1,83.4 419.4,83.3 418.8,83.3 418.1,83.4 417.5,83.2 416.9,83.1 416.2,83.0 415.6,82.8 415.0,82.6 414.4,82.4 413.8,82.2 413.2,82.0 412.6,81.8 412.0,81.6 411.4,81.4 410.8,81.2 409.9,81.9 409.9,81.9 410.3,83.0 410.8,83.2 411.5,83.4 412.1,83.5 412.7,83.7 413.3,83.9 413.9,84.1 414.5,84.3 415.1,84.4 415.7,84.6 416.3,84.9 416.9,85.1 417.5,85.4 418.0,85.8 418.6,86.2 419.1,86.4 419.8,86.6 420.4,86.7 421.0,86.9 421.6,87.1 422.2,87.4 422.7,87.8 423.3,88.1 423.8,88.6 424.3,89.1 424.8,89.5 425.3,90.0 425.9,90.4 426.5,90.7 427.0,90.9 427.6,91.1 428.3,91.3 428.9,91.4 429.5,91.6 430.1,91.7 430.7,91.8 431.4,92.0 432.0,92.1 432.6,92.2 433.2,92.3 433.9,92.5 434.5,92.6 435.1,92.7 435.7,92.8Z M433.9,95.1 433.3,94.9 432.7,94.7 432.1,94.5 431.5,94.3 430.9,94.1 430.2,93.9 429.6,93.7 429.0,93.5 428.4,93.3 427.8,93.1 427.2,92.9 426.5,92.8 425.9,92.6 425.3,92.5 424.7,92.4 424.0,92.4 423.3,92.5 422.6,92.6 422.0,92.7 421.3,92.9 420.6,93.1 419.9,93.1 419.3,93.1 418.6,93.1 418.0,93.0 417.3,92.9 416.7,92.7 416.1,92.6 415.5,92.5 414.8,92.6 414.1,92.7 413.5,92.6 412.8,92.6 412.2,92.5 411.6,92.4 410.9,92.2 410.3,92.1 409.7,92.0 409.0,91.8 408.4,91.7 407.8,91.6 407.2,91.4 406.5,91.3 405.7,92.1 405.7,92.1 406.2,93.1 406.8,93.3 407.4,93.4 408.1,93.5 408.7,93.6 409.3,93.7 410.0,93.8 410.6,94.0 411.2,94.1 411.8,94.2 412.5,94.4 413.1,94.6 413.7,94.8 414.3,95.1 414.9,95.5 415.5,95.6 416.1,95.7 416.8,95.8 417.4,96.0 418.0,96.1 418.6,96.3 419.2,96.6 419.8,96.9 420.4,97.4 420.9,97.8 421.5,98.2 422.1,98.5 422.7,98.9 423.3,99.1 423.9,99.3 424.5,99.5 425.2,99.5 425.8,99.6 426.5,99.7 427.1,99.7 427.7,99.8 428.4,99.9 429.0,99.9 429.7,100.0 430.3,100.0 431.0,100.1 431.6,100.1 432.3,100.2 432.9,100.2Z M431.8,102.9 431.1,102.7 430.5,102.6 429.8,102.5 429.2,102.3 428.6,102.2 427.9,102.0 427.3,101.9 426.7,101.7 426.0,101.6 425.4,101.5 424.8,101.3 424.1,101.2 423.5,101.1 422.8,101.0 422.2,101.0 421.5,101.1 420.9,101.2 420.2,101.4 419.5,101.6 418.9,101.9 418.2,102.1 417.5,102.2 416.9,102.3 416.2,102.3 415.6,102.3 414.9,102.2 414.3,102.1 413.6,102.0 413.0,102.0 412.3,102.2 411.7,102.3 411.0,102.3 410.4,102.3 409.7,102.3 409.1,102.3 408.4,102.2 407.8,102.1 407.1,102.1 406.5,102.0 405.8,101.9 405.2,101.9 404.6,101.7 403.9,101.7 403.2,102.6 403.2,102.6 403.7,103.6 404.4,103.7 405.0,103.7 405.7,103.7 406.3,103.8 407.0,103.9 407.6,103.9 408.2,104.0 408.9,104.1 409.5,104.1 410.2,104.2 410.8,104.4 411.4,104.5 412.1,104.8 412.7,105.1 413.3,105.2 414.0,105.2 414.6,105.2 415.3,105.3 415.9,105.4 416.5,105.6 417.2,105.8 417.8,106.0 418.4,106.4 419.0,106.7 419.6,107.1 420.3,107.4 420.9,107.7 421.5,107.9 422.1,108.0 422.8,108.0 423.4,108.0 424.1,108.0 424.7,108.0 425.4,108.0 426.0,108.0 426.7,108.0 427.3,108.0 428.0,108.0 428.6,108.0 429.3,108.0 429.9,107.9 430.6,107.9 431.3,107.9Z M430.9,110.7 430.2,110.7 429.6,110.6 428.9,110.5 428.3,110.4 427.6,110.4 427.0,110.3 426.3,110.2 425.7,110.1 425.0,110.0 424.4,110.0 423.7,109.9 423.1,109.8 422.4,109.8 421.8,109.8 421.1,109.8 420.5,109.9 419.8,110.2 419.2,110.4 418.5,110.7 417.9,111.0 417.2,111.3 416.6,111.4 415.9,111.6 415.3,111.7 414.6,111.7 414.0,111.7 413.3,111.7 412.7,111.7 412.1,111.7 411.4,111.9 410.8,112.2 410.1,112.2 409.5,112.3 408.8,112.3 408.2,112.3 407.5,112.3 406.9,112.3 406.2,112.3 405.6,112.3 404.9,112.3 404.3,112.3 403.6,112.3 403.0,112.3 402.3,113.2 402.3,113.2 403.0,114.2 403.6,114.2 404.3,114.2 404.9,114.1 405.6,114.1 406.2,114.1 406.9,114.1 407.5,114.1 408.2,114.1 408.8,114.1 409.5,114.2 410.1,114.3 410.8,114.3 411.4,114.6 412.1,114.8 412.7,114.8 413.3,114.8 414.0,114.8 414.6,114.8 415.3,114.8 415.9,114.9 416.6,115.1 417.2,115.2 417.9,115.5 418.5,115.8 419.2,116.1 419.8,116.3 420.5,116.6 421.1,116.7 421.8,116.7 422.4,116.7 423.1,116.7 423.7,116.6 424.4,116.5 425.0,116.5 425.7,116.4 426.3,116.3 427.0,116.2 427.6,116.1 428.3,116.1 428.9,116.0 429.6,115.9 430.2,115.8 430.9,115.7Z M431.3,118.6 430.6,118.6 429.9,118.6 429.3,118.5 428.6,118.5 428.0,118.5 427.3,118.5 426.7,118.5 426.0,118.5 425.4,118.5 424.7,118.5 424.1,118.5 423.4,118.5 422.8,118.5 422.1,118.5 421.5,118.6 420.9,118.8 420.3,119.1 419.6,119.4 419.0,119.8 418.4,120.1 417.8,120.5 417.2,120.7 416.5,120.9 415.9,121.1 415.3,121.2 414.6,121.3 414.0,121.3 413.3,121.3 412.7,121.4 412.1,121.7 411.4,122.0 410.8,122.1 410.2,122.3 409.5,122.4 408.9,122.4 408.2,122.5 407.6,122.6 407.0,122.6 406.3,122.7 405.7,122.8 405.0,122.8 404.4,122.8 403.7,122.9 403.2,123.9 403.2,123.9 403.9,124.8 404.6,124.8 405.2,124.6 405.8,124.6 406.5,124.5 407.1,124.4 407.8,124.4 408.4,124.3 409.1,124.2 409.7,124.2 410.4,124.2 411.0,124.2 411.7,124.2 412.3,124.3 413.0,124.5 413.6,124.5 414.3,124.4 414.9,124.3 415.6,124.2 416.2,124.2 416.9,124.2 417.5,124.3 418.2,124.4 418.9,124.6 419.5,124.9 420.2,125.1 420.9,125.3 421.5,125.4 422.2,125.5 422.8,125.5 423.5,125.4 424.1,125.3 424.8,125.2 425.4,125.0 426.0,124.9 426.7,124.8 427.3,124.6 427.9,124.5 428.6,124.3 429.2,124.2 429.8,124.0 430.5,123.9 431.1,123.8 431.8,123.6Z M432.9,126.3 432.3,126.3 431.6,126.4 431.0,126.4 430.3,126.5 429.7,126.5 429.0,126.6 428.4,126.6 427.7,126.7 427.1,126.8 426.5,126.8 425.8,126.9 425.2,127.0 424.5,127.0 423.9,127.2 423.3,127.4 422.7,127.6 422.1,128.0 421.5,128.3 420.9,128.7 420.4,129.1 419.8,129.6 419.2,129.9 418.6,130.2 418.0,130.4 417.4,130.5 416.8,130.7 416.1,130.8 415.5,130.9 414.9,131.0 414.3,131.4 413.7,131.7 413.1,131.9 412.5,132.1 411.8,132.3 411.2,132.4 410.6,132.5 410.0,132.7 409.3,132.8 408.7,132.9 408.1,133.0 407.4,133.1 406.8,133.2 406.2,133.4 405.7,134.4 405.7,134.4 406.5,135.2 407.2,135.1 407.8,134.9 408.4,134.8 409.0,134.7 409.7,134.5 410.3,134.4 410.9,134.3 411.6,134.1 412.2,134.0 412.8,133.9 413.5,133.9 414.1,133.8 414.8,133.9 415.5,134.0 416.1,133.9 416.7,133.8 417.3,133.6 418.0,133.5 418.6,133.4 419.3,133.4 419.9,133.4 420.6,133.4 421.3,133.6 422.0,133.8 422.6,133.9 423.3,134.0 424.0,134.1 424.7,134.1 425.3,134.0 425.9,133.9 426.5,133.7 427.2,133.6 427.8,133.4 428.4,133.2 429.0,133.0 429.6,132.8 430.2,132.6 430.9,132.4 431.5,132.2 432.1,132.0 432.7,131.8 433.3,131.6 433.9,131.4Z M435.7,133.7 435.1,133.8 434.5,133.9 433.9,134.0 433.2,134.2 432.6,134.3 432.0,134.4 431.4,134.5 430.7,134.7 430.1,134.8 429.5,134.9 428.9,135.1 428.3,135.2 427.6,135.4 427.0,135.6 426.5,135.8 425.9,136.1 425.3,136.5 424.8,137.0 424.3,137.4 423.8,137.9 423.3,138.4 422.7,138.7 422.2,139.1 421.6,139.4 421.0,139.6 420.4,139.8 419.8,139.9 419.1,140.1 418.6,140.3 418.0,140.7 417.5,141.1 416.9,141.4 416.3,141.6 415.7,141.9 415.1,142.1 414.5,142.2 413.9,142.4 413.3,142.6 412.7,142.8 412.1,143.0 411.5,143.1 410.8,143.3 410.3,143.5 409.9,144.6 409.9,144.6 410.8,145.3 411.4,145.1 412.0,144.9 412.6,144.7 413.2,144.5 413.8,144.3 414.4,144.1 415.0,143.9 415.6,143.7 416.2,143.5 416.9,143.4 417.5,143.3 418.1,143.1 418.8,143.2 419.4,143.2 420.1,143.1 420.7,142.8 421.3,142.6 421.9,142.4 422.5,142.2 423.1,142.2 423.8,142.2 424.4,142.1 425.1,142.2 425.8,142.4 426.5,142.4 427.2,142.5 427.9,142.5 428.5,142.4 429.1,142.3 429.7,142.1 430.3,141.9 430.9,141.7 431.5,141.5 432.1,141.2 432.7,141.0 433.3,140.7 433.9,140.5 434.5,140.2 435.0,140.0 435.6,139.7 436.2,139.4 436.8,139.2 437.4,138.9Z M439.7,140.7 439.1,140.9 438.5,141.1 437.9,141.3 437.3,141.4 436.7,141.6 436.1,141.8 435.5,142.0 435.0,142.2 434.4,142.4 433.8,142.6 433.2,142.9 432.6,143.1 432.0,143.3 431.5,143.6 430.9,143.9 430.4,144.3 429.9,144.7 429.4,145.2 429.0,145.7 428.5,146.2 428.1,146.8 427.6,147.2 427.1,147.6 426.6,148.0 426.0,148.2 425.4,148.4 424.8,148.7 424.3,148.9 423.7,149.2 423.2,149.7 422.7,150.1 422.2,150.4 421.7,150.7 421.1,151.0 420.5,151.2 419.9,151.5 419.4,151.7 418.8,152.0 418.2,152.2 417.6,152.5 417.1,152.7 416.5,152.9 415.9,153.2 415.7,154.3 415.7,154.3 416.6,154.9 417.2,154.7 417.8,154.4 418.4,154.1 418.9,153.8 419.5,153.6 420.1,153.3 420.6,153.1 421.2,152.8 421.8,152.6 422.4,152.4 423.0,152.2 423.6,152.0 424.2,151.9 424.9,151.9 425.5,151.7 426.0,151.4 426.6,151.2 427.2,150.9 427.7,150.7 428.3,150.5 429.0,150.4 429.7,150.4 430.4,150.4 431.0,150.5 431.7,150.5 432.4,150.5 433.1,150.4 433.7,150.3 434.3,150.1 434.9,149.9 435.4,149.6 436.0,149.4 436.6,149.1 437.1,148.8 437.7,148.5 438.2,148.2 438.8,147.9 439.3,147.6 439.9,147.3 440.4,147.0 441.0,146.7 441.5,146.4 442.1,146.1Z M444.8,147.2 444.2,147.5 443.6,147.7 443.1,148.0 442.5,148.3 442.0,148.5 441.4,148.8 440.9,149.0 440.3,149.3 439.8,149.6 439.2,149.9 438.7,150.2 438.2,150.4 437.6,150.7 437.1,151.1 436.6,151.5 436.2,151.9 435.8,152.4 435.3,152.9 434.9,153.5 434.6,154.0 434.2,154.6 433.8,155.1 433.4,155.6 432.9,156.0 432.3,156.3 431.8,156.6 431.3,156.8 430.7,157.1 430.2,157.5 429.8,158.0 429.4,158.5 428.9,158.9 428.4,159.2 427.9,159.5 427.4,159.8 426.8,160.1 426.3,160.4 425.8,160.7 425.2,161.0 424.7,161.3 424.1,161.6 423.6,161.8 423.1,162.2 423.0,163.3 423.0,163.3 424.0,163.8 424.5,163.5 425.0,163.2 425.6,162.8 426.1,162.5 426.6,162.2 427.1,161.9 427.7,161.6 428.2,161.3 428.7,161.0 429.3,160.7 429.8,160.5 430.4,160.2 431.0,160.1 431.6,160.0 432.2,159.8 432.8,159.5 433.3,159.1 433.8,158.8 434.3,158.5 434.9,158.3 435.5,158.1 436.2,158.0 436.9,158.0 437.5,158.0 438.2,157.9 438.9,157.8 439.5,157.7 440.1,157.6 440.7,157.4 441.2,157.1 441.8,156.8 442.3,156.5 442.8,156.2 443.3,155.8 443.8,155.5 444.4,155.2 444.9,154.8 445.4,154.5 445.9,154.1 446.4,153.8 446.9,153.4 447.4,153.1 447.9,152.7Z M450.7,153.3 450.2,153.6 449.7,153.9 449.2,154.2 448.7,154.5 448.2,154.8 447.7,155.1 447.2,155.5 446.7,155.8 446.2,156.2 445.7,156.5 445.3,156.9 444.8,157.2 444.3,157.6 443.9,158.0 443.5,158.4 443.1,158.9 442.7,159.4 442.4,160.0 442.1,160.6 441.8,161.2 441.5,161.8 441.2,162.4 440.8,162.9 440.4,163.3 439.9,163.7 439.4,164.0 438.9,164.3 438.4,164.7 438.0,165.1 437.7,165.7 437.3,166.2 436.9,166.6 436.4,167.0 436.0,167.3 435.5,167.7 435.0,168.0 434.5,168.4 434.1,168.7 433.6,169.1 433.1,169.4 432.6,169.7 432.1,170.0 431.6,170.5 431.7,171.5 431.7,171.5 432.7,171.9 433.2,171.6 433.7,171.2 434.1,170.8 434.6,170.5 435.0,170.1 435.5,169.7 436.0,169.4 436.5,169.0 436.9,168.6 437.4,168.3 437.9,168.0 438.5,167.7 439.0,167.5 439.7,167.3 440.2,167.1 440.7,166.7 441.2,166.3 441.6,166.0 442.1,165.6 442.6,165.3 443.2,165.1 443.9,165.0 444.5,164.9 445.2,164.8 445.9,164.7 446.5,164.5 447.1,164.4 447.7,164.1 448.2,163.9 448.7,163.6 449.2,163.2 449.7,162.9 450.2,162.5 450.7,162.2 451.1,161.8 451.6,161.4 452.1,161.1 452.5,160.7 453.0,160.3 453.4,159.9 453.9,159.5 454.3,159.1 454.8,158.7Z M457.6,158.7 457.1,159.0 456.7,159.4 456.2,159.8 455.8,160.1 455.3,160.5 454.9,160.9 454.5,161.3 454.1,161.7 453.6,162.1 453.2,162.5 452.8,162.9 452.4,163.3 452.0,163.7 451.7,164.2 451.3,164.7 451.0,165.2 450.7,165.8 450.5,166.3 450.3,167.0 450.1,167.6 449.9,168.3 449.7,168.9 449.4,169.4 449.1,169.9 448.6,170.3 448.2,170.6 447.7,171.0 447.3,171.4 447.0,171.9 446.7,172.5 446.4,173.0 446.0,173.5 445.7,173.9 445.3,174.3 444.8,174.7 444.4,175.1 444.0,175.5 443.6,175.9 443.1,176.2 442.7,176.6 442.2,177.0 441.8,177.4 441.4,177.8 441.6,178.9 441.6,178.9 442.6,179.1 443.1,178.8 443.5,178.3 443.9,177.9 444.3,177.5 444.7,177.0 445.1,176.6 445.5,176.2 445.9,175.8 446.3,175.4 446.8,175.1 447.2,174.7 447.7,174.3 448.2,174.0 448.8,173.8 449.3,173.6 449.8,173.2 450.2,172.7 450.5,172.3 450.9,171.8 451.4,171.5 452.0,171.3 452.6,171.1 453.3,171.0 453.9,170.8 454.5,170.6 455.1,170.4 455.7,170.1 456.2,169.9 456.8,169.6 457.2,169.2 457.7,168.8 458.1,168.5 458.5,168.1 459.0,167.7 459.4,167.3 459.8,166.9 460.2,166.5 460.6,166.1 461.0,165.6 461.4,165.2 461.8,164.8 462.2,164.3 462.6,163.9Z M465.2,163.4 464.8,163.8 464.4,164.3 464.1,164.7 463.7,165.1 463.3,165.5 462.9,165.9 462.6,166.4 462.2,166.8 461.9,167.3 461.6,167.7 461.3,168.2 460.9,168.7 460.6,169.1 460.3,169.6 460.1,170.2 459.9,170.7 459.7,171.3 459.5,171.9 459.4,172.5 459.3,173.2 459.2,173.8 459.1,174.5 459.0,175.1 458.7,175.5 458.3,175.9 457.9,176.3 457.5,176.8 457.1,177.2 456.9,177.8 456.8,178.4 456.5,178.9 456.2,179.4 455.9,179.8 455.6,180.3 455.2,180.7 454.8,181.1 454.5,181.6 454.1,182.0 453.7,182.4 453.3,182.8 452.9,183.3 452.6,183.7 452.3,184.2 452.6,185.1 452.6,185.1 453.6,185.3 454.0,184.9 454.4,184.4 454.7,183.9 455.0,183.5 455.3,183.0 455.7,182.6 456.0,182.1 456.4,181.7 456.7,181.2 457.1,180.8 457.5,180.4 457.9,180.0 458.4,179.6 458.9,179.4 459.4,179.1 459.8,178.6 460.1,178.2 460.4,177.7 460.7,177.2 461.1,176.8 461.7,176.5 462.3,176.3 462.9,176.1 463.5,175.8 464.1,175.6 464.7,175.3 465.2,175.0 465.7,174.7 466.2,174.3 466.6,173.9 467.0,173.5 467.4,173.1 467.7,172.7 468.1,172.3 468.5,171.9 468.9,171.4 469.2,171.0 469.6,170.6 469.9,170.1 470.2,169.6 470.5,169.2 470.9,168.7 471.2,168.3Z M473.5,167.5 473.2,167.9 472.9,168.4 472.6,168.8 472.3,169.3 471.9,169.7 471.7,170.2 471.4,170.7 471.2,171.2 470.9,171.7 470.7,172.2 470.4,172.7 470.2,173.2 470.0,173.7 469.8,174.2 469.6,174.8 469.5,175.3 469.4,175.9 469.3,176.5 469.3,177.1 469.3,177.8 469.4,178.5 469.4,179.1 469.3,179.7 469.1,180.2 468.7,180.6 468.4,181.1 468.1,181.5 467.8,182.0 467.7,182.6 467.6,183.2 467.5,183.8 467.2,184.2 467.0,184.7 466.7,185.2 466.4,185.7 466.1,186.1 465.8,186.6 465.6,187.1 465.2,187.5 464.9,188.0 464.6,188.4 464.3,188.9 464.1,189.4 464.5,190.3 464.5,190.3 465.5,190.3 465.9,189.9 466.2,189.4 466.4,188.9 466.6,188.4 466.9,187.9 467.2,187.4 467.4,186.9 467.7,186.4 468.0,186.0 468.3,185.5 468.6,185.0 468.9,184.6 469.3,184.2 469.8,183.9 470.3,183.5 470.6,183.0 470.8,182.6 471.1,182.0 471.3,181.5 471.6,181.1 472.1,180.8 472.7,180.4 473.3,180.2 473.9,179.9 474.4,179.6 474.9,179.2 475.4,178.9 475.8,178.5 476.3,178.1 476.6,177.7 477.0,177.2 477.3,176.8 477.6,176.4 477.9,175.9 478.3,175.4 478.6,175.0 478.9,174.5 479.2,174.1 479.4,173.6 479.7,173.1 479.9,172.6 480.2,172.1 480.4,171.6Z M482.4,170.8 482.1,171.3 481.9,171.7 481.7,172.2 481.4,172.7 481.2,173.2 481.0,173.7 480.8,174.2 480.7,174.7 480.5,175.2 480.4,175.8 480.2,176.3 480.1,176.8 479.9,177.3 479.8,177.9 479.8,178.4 479.8,179.0 479.7,179.6 479.8,180.2 479.8,180.8 480.0,181.4 480.1,182.1 480.2,182.7 480.3,183.3 480.1,183.8 479.8,184.3 479.6,184.8 479.3,185.2 479.1,185.7 479.2,186.3 479.2,186.9 479.1,187.5 479.0,188.0 478.8,188.5 478.6,189.0 478.4,189.5 478.1,190.0 477.9,190.5 477.7,191.0 477.5,191.5 477.2,191.9 477.0,192.4 476.7,192.9 476.6,193.4 477.2,194.2 477.2,194.2 478.2,194.1 478.5,193.6 478.6,193.1 478.8,192.6 479.0,192.1 479.1,191.6 479.3,191.1 479.5,190.6 479.7,190.1 479.9,189.6 480.1,189.1 480.4,188.6 480.6,188.1 480.9,187.6 481.4,187.2 481.8,186.8 482.0,186.4 482.2,185.8 482.3,185.3 482.5,184.8 482.7,184.3 483.2,183.9 483.7,183.6 484.3,183.2 484.8,182.8 485.3,182.5 485.7,182.1 486.1,181.6 486.5,181.2 486.9,180.8 487.2,180.3 487.5,179.9 487.7,179.4 488.0,178.9 488.3,178.5 488.5,178.0 488.8,177.5 489.0,177.0 489.2,176.5 489.4,176.0 489.6,175.5 489.8,175.0 489.9,174.5 490.1,174.0Z M491.7,173.3 491.5,173.8 491.4,174.3 491.2,174.8 491.1,175.3 490.9,175.8 490.8,176.3 490.8,176.9 490.7,177.4 490.6,177.9 490.6,178.4 490.5,179.0 490.5,179.5 490.4,180.0 490.4,180.6 490.5,181.1 490.5,181.7 490.6,182.3 490.7,182.8 490.9,183.4 491.1,184.0 491.4,184.6 491.6,185.2 491.7,185.8 491.7,186.3 491.4,186.8 491.2,187.3 491.1,187.8 491.0,188.3 491.1,188.9 491.2,189.5 491.3,190.0 491.2,190.6 491.0,191.1 490.9,191.6 490.8,192.1 490.7,192.6 490.5,193.1 490.4,193.6 490.2,194.1 490.0,194.7 489.9,195.2 489.7,195.7 489.7,196.2 490.4,196.9 490.4,196.9 491.3,196.6 491.5,196.1 491.6,195.6 491.7,195.1 491.8,194.5 491.9,194.0 492.0,193.5 492.1,193.0 492.2,192.5 492.3,191.9 492.5,191.4 492.6,190.9 492.7,190.4 493.0,189.9 493.4,189.5 493.8,189.0 493.9,188.5 494.0,188.0 494.1,187.5 494.1,186.9 494.3,186.4 494.7,186.0 495.1,185.5 495.6,185.1 496.1,184.7 496.5,184.2 496.9,183.8 497.2,183.3 497.5,182.9 497.8,182.4 498.1,181.9 498.3,181.4 498.5,180.9 498.7,180.4 498.9,179.9 499.1,179.4 499.2,178.9 499.4,178.4 499.6,177.9 499.7,177.4 499.8,176.9 499.9,176.3 500.0,175.8 500.1,175.3Z M501.4,174.9 501.3,175.4 501.2,175.9 501.2,176.5 501.1,177.0 501.1,177.5 501.0,178.0 501.0,178.6 501.1,179.1 501.1,179.6 501.1,180.1 501.2,180.7 501.2,181.2 501.2,181.7 501.3,182.3 501.5,182.8 501.6,183.3 501.8,183.9 502.0,184.4 502.2,185.0 502.6,185.5 502.9,186.1 503.3,186.6 503.5,187.2 503.5,187.7 503.3,188.2 503.2,188.7 503.1,189.2 503.1,189.8 503.4,190.3 503.6,190.9 503.7,191.4 503.7,191.9 503.6,192.4 503.6,193.0 503.6,193.5 503.5,194.0 503.4,194.5 503.4,195.1 503.3,195.6 503.2,196.1 503.1,196.6 503.0,197.1 503.1,197.7 503.9,198.3 503.9,198.3 504.8,197.8 504.9,197.3 504.9,196.8 504.9,196.2 504.9,195.7 504.9,195.2 504.9,194.7 504.9,194.1 505.0,193.6 505.0,193.1 505.1,192.6 505.1,192.0 505.2,191.5 505.4,191.0 505.7,190.5 506.0,190.0 506.1,189.5 506.1,189.0 506.0,188.4 506.0,187.9 506.1,187.4 506.4,186.9 506.8,186.4 507.2,185.9 507.6,185.4 508.0,184.9 508.3,184.4 508.5,183.9 508.7,183.4 509.0,182.9 509.1,182.4 509.3,181.8 509.4,181.3 509.5,180.8 509.6,180.3 509.7,179.8 509.8,179.3 509.9,178.7 510.0,178.2 510.0,177.7 510.0,177.2 510.1,176.6 510.1,176.1 510.1,175.6Z M511.3,175.6 511.3,176.1 511.3,176.6 511.4,177.2 511.4,177.7 511.4,178.2 511.5,178.7 511.6,179.3 511.7,179.8 511.8,180.3 511.9,180.8 512.0,181.3 512.1,181.8 512.3,182.4 512.4,182.9 512.7,183.4 512.9,183.9 513.1,184.4 513.4,184.9 513.8,185.4 514.2,185.9 514.6,186.4 515.0,186.9 515.3,187.4 515.4,187.9 515.4,188.4 515.3,189.0 515.3,189.5 515.4,190.0 515.7,190.5 516.0,191.0 516.2,191.5 516.3,192.0 516.3,192.6 516.4,193.1 516.4,193.6 516.5,194.1 516.5,194.7 516.5,195.2 516.5,195.7 516.5,196.2 516.5,196.8 516.5,197.3 516.6,197.8 517.5,198.3 517.5,198.3 518.3,197.7 518.4,197.1 518.3,196.6 518.2,196.1 518.1,195.6 518.0,195.1 518.0,194.5 517.9,194.0 517.8,193.5 517.8,193.0 517.8,192.4 517.7,191.9 517.7,191.4 517.8,190.9 518.0,190.3 518.3,189.8 518.3,189.2 518.2,188.7 518.1,188.2 517.9,187.7 517.9,187.2 518.1,186.6 518.5,186.1 518.8,185.5 519.2,185.0 519.4,184.4 519.6,183.9 519.8,183.3 519.9,182.8 520.1,182.3 520.2,181.7 520.2,181.2 520.2,180.7 520.3,180.1 520.3,179.6 520.3,179.1 520.4,178.6 520.4,178.0 520.3,177.5 520.3,177.0 520.2,176.5 520.2,175.9 520.1,175.4 520.0,174.9Z M521.3,175.3 521.4,175.8 521.5,176.3 521.6,176.9 521.7,177.4 521.8,177.9 522.0,178.4 522.2,178.9 522.3,179.4 522.5,179.9 522.7,180.4 522.9,180.9 523.1,181.4 523.3,181.9 523.6,182.4 523.9,182.9 524.2,183.3 524.5,183.8 524.9,184.2 525.3,184.7 525.8,185.1 526.3,185.5 526.7,186.0 527.1,186.4 527.3,186.9 527.3,187.5 527.4,188.0 527.5,188.5 527.6,189.0 528.0,189.5 528.4,189.9 528.7,190.4 528.8,190.9 528.9,191.4 529.1,191.9 529.2,192.5 529.3,193.0 529.4,193.5 529.5,194.0 529.6,194.5 529.7,195.1 529.8,195.6 529.9,196.1 530.1,196.6 531.0,196.9 531.0,196.9 531.7,196.2 531.7,195.7 531.5,195.2 531.4,194.7 531.2,194.1 531.0,193.6 530.9,193.1 530.7,192.6 530.6,192.1 530.5,191.6 530.4,191.1 530.2,190.6 530.1,190.0 530.2,189.5 530.3,188.9 530.4,188.3 530.3,187.8 530.2,187.3 530.0,186.8 529.7,186.3 529.7,185.8 529.8,185.2 530.0,184.6 530.3,184.0 530.5,183.4 530.7,182.8 530.8,182.3 530.9,181.7 530.9,181.1 531.0,180.6 531.0,180.0 530.9,179.5 530.9,179.0 530.8,178.4 530.8,177.9 530.7,177.4 530.6,176.9 530.6,176.3 530.5,175.8 530.3,175.3 530.2,174.8 530.0,174.3 529.9,173.8 529.7,173.3Z M531.3,174.0 531.5,174.5 531.6,175.0 531.8,175.5 532.0,176.0 532.2,176.5 532.4,177.0 532.6,177.5 532.9,178.0 533.1,178.5 533.4,178.9 533.7,179.4 533.9,179.9 534.2,180.3 534.5,180.8 534.9,181.2 535.3,181.6 535.7,182.1 536.1,182.5 536.6,182.8 537.1,183.2 537.7,183.6 538.2,183.9 538.7,184.3 538.9,184.8 539.1,185.3 539.2,185.8 539.4,186.4 539.6,186.8 540.0,187.2 540.5,187.6 540.8,188.1 541.0,188.6 541.3,189.1 541.5,189.6 541.7,190.1 541.9,190.6 542.1,191.1 542.3,191.6 542.4,192.1 542.6,192.6 542.8,193.1 542.9,193.6 543.2,194.1 544.2,194.2 544.2,194.2 544.8,193.4 544.7,192.9 544.4,192.4 544.2,191.9 543.9,191.5 543.7,191.0 543.5,190.5 543.3,190.0 543.0,189.5 542.8,189.0 542.6,188.5 542.4,188.0 542.3,187.5 542.2,186.9 542.2,186.3 542.3,185.7 542.1,185.2 541.8,184.8 541.6,184.3 541.3,183.8 541.1,183.3 541.2,182.7 541.3,182.1 541.4,181.4 541.6,180.8 541.6,180.2 541.7,179.6 541.6,179.0 541.6,178.4 541.6,177.9 541.5,177.3 541.3,176.8 541.2,176.3 541.0,175.8 540.9,175.2 540.7,174.7 540.6,174.2 540.4,173.7 540.2,173.2 540.0,172.7 539.7,172.2 539.5,171.7 539.3,171.3 539.0,170.8Z M541.0,171.6 541.2,172.1 541.5,172.6 541.7,173.1 542.0,173.6 542.2,174.1 542.5,174.5 542.8,175.0 543.1,175.4 543.5,175.9 543.8,176.4 544.1,176.8 544.4,177.2 544.8,177.7 545.1,178.1 545.6,178.5 546.0,178.9 546.5,179.2 547.0,179.6 547.5,179.9 548.1,180.2 548.7,180.4 549.3,180.8 549.8,181.1 550.1,181.5 550.3,182.0 550.6,182.6 550.8,183.0 551.1,183.5 551.6,183.9 552.1,184.2 552.5,184.6 552.8,185.0 553.1,185.5 553.4,186.0 553.7,186.4 554.0,186.9 554.2,187.4 554.5,187.9 554.8,188.4 555.0,188.9 555.2,189.4 555.5,189.9 555.9,190.3 556.9,190.3 556.9,190.3 557.3,189.4 557.1,188.9 556.8,188.4 556.5,188.0 556.2,187.5 555.8,187.1 555.6,186.6 555.3,186.1 555.0,185.7 554.7,185.2 554.4,184.7 554.2,184.2 553.9,183.8 553.8,183.2 553.7,182.6 553.6,182.0 553.3,181.5 553.0,181.1 552.7,180.6 552.3,180.2 552.1,179.7 552.0,179.1 552.0,178.5 552.1,177.8 552.1,177.1 552.1,176.5 552.0,175.9 551.9,175.3 551.8,174.8 551.6,174.2 551.4,173.7 551.2,173.2 551.0,172.7 550.7,172.2 550.5,171.7 550.2,171.2 550.0,170.7 549.7,170.2 549.5,169.7 549.1,169.3 548.8,168.8 548.5,168.4 548.2,167.9 547.9,167.5Z M550.2,168.3 550.5,168.7 550.9,169.2 551.2,169.6 551.5,170.1 551.8,170.6 552.2,171.0 552.5,171.4 552.9,171.9 553.3,172.3 553.7,172.7 554.0,173.1 554.4,173.5 554.8,173.9 555.2,174.3 555.7,174.7 556.2,175.0 556.7,175.3 557.3,175.6 557.9,175.8 558.5,176.1 559.1,176.3 559.7,176.5 560.3,176.8 560.7,177.2 561.0,177.7 561.3,178.2 561.6,178.6 562.0,179.1 562.5,179.4 563.0,179.6 563.5,180.0 563.9,180.4 564.3,180.8 564.7,181.2 565.0,181.7 565.4,182.1 565.7,182.6 566.1,183.0 566.4,183.5 566.7,183.9 567.0,184.4 567.4,184.9 567.8,185.3 568.8,185.1 568.8,185.1 569.1,184.2 568.8,183.7 568.5,183.3 568.1,182.8 567.7,182.4 567.3,182.0 566.9,181.6 566.6,181.1 566.2,180.7 565.8,180.3 565.5,179.8 565.2,179.4 564.9,178.9 564.6,178.4 564.5,177.8 564.3,177.2 563.9,176.8 563.5,176.3 563.1,175.9 562.7,175.5 562.4,175.1 562.3,174.5 562.2,173.8 562.1,173.2 562.0,172.5 561.9,171.9 561.7,171.3 561.5,170.7 561.3,170.2 561.1,169.6 560.8,169.1 560.5,168.7 560.1,168.2 559.8,167.7 559.5,167.3 559.2,166.8 558.8,166.4 558.5,165.9 558.1,165.5 557.7,165.1 557.3,164.7 557.0,164.3 556.6,163.8 556.2,163.4Z M558.8,163.9 559.2,164.3 559.6,164.8 560.0,165.2 560.4,165.6 560.8,166.1 561.2,166.5 561.6,166.9 562.0,167.3 562.4,167.7 562.9,168.1 563.3,168.5 563.7,168.8 564.2,169.2 564.6,169.6 565.2,169.9 565.7,170.1 566.3,170.4 566.9,170.6 567.5,170.8 568.1,171.0 568.8,171.1 569.4,171.3 570.0,171.5 570.5,171.8 570.9,172.3 571.2,172.7 571.6,173.2 572.1,173.6 572.6,173.8 573.2,174.0 573.7,174.3 574.2,174.7 574.6,175.1 575.1,175.4 575.5,175.8 575.9,176.2 576.3,176.6 576.7,177.0 577.1,177.5 577.5,177.9 577.9,178.3 578.3,178.8 578.8,179.1 579.8,178.9 579.8,178.9 580.0,177.8 579.6,177.4 579.2,177.0 578.7,176.6 578.3,176.2 577.8,175.9 577.4,175.5 577.0,175.1 576.6,174.7 576.1,174.3 575.7,173.9 575.4,173.5 575.0,173.0 574.7,172.5 574.4,171.9 574.1,171.4 573.7,171.0 573.2,170.6 572.8,170.3 572.3,169.9 572.0,169.4 571.7,168.9 571.5,168.3 571.3,167.6 571.1,167.0 570.9,166.3 570.7,165.8 570.4,165.2 570.1,164.7 569.7,164.2 569.4,163.7 569.0,163.3 568.6,162.9 568.2,162.5 567.8,162.1 567.3,161.7 566.9,161.3 566.5,160.9 566.1,160.5 565.6,160.1 565.2,159.8 564.7,159.4 564.3,159.0 563.8,158.7Z M566.6,158.7 567.1,159.1 567.5,159.5 568.0,159.9 568.4,160.3 568.9,160.7 569.3,161.1 569.8,161.4 570.3,161.8 570.7,162.2 571.2,162.5 571.7,162.9 572.2,163.2 572.7,163.6 573.2,163.9 573.7,164.1 574.3,164.4 574.9,164.5 575.5,164.7 576.2,164.8 576.9,164.9 577.5,165.0 578.2,165.1 578.8,165.3 579.3,165.6 579.8,166.0 580.2,166.3 580.7,166.7 581.2,167.1 581.7,167.3 582.4,167.5 582.9,167.7 583.5,168.0 584.0,168.3 584.5,168.6 584.9,169.0 585.4,169.4 585.9,169.7 586.4,170.1 586.8,170.5 587.3,170.8 587.7,171.2 588.2,171.6 588.7,171.9 589.7,171.5 589.7,171.5 589.8,170.5 589.3,170.0 588.8,169.7 588.3,169.4 587.8,169.1 587.3,168.7 586.9,168.4 586.4,168.0 585.9,167.7 585.4,167.3 585.0,167.0 584.5,166.6 584.1,166.2 583.7,165.7 583.4,165.1 583.0,164.7 582.5,164.3 582.0,164.0 581.5,163.7 581.0,163.3 580.6,162.9 580.2,162.4 579.9,161.8 579.6,161.2 579.3,160.6 579.0,160.0 578.7,159.4 578.3,158.9 577.9,158.4 577.5,158.0 577.1,157.6 576.6,157.2 576.1,156.9 575.7,156.5 575.2,156.2 574.7,155.8 574.2,155.5 573.7,155.1 573.2,154.8 572.7,154.5 572.2,154.2 571.7,153.9 571.2,153.6 570.7,153.3Z M573.5,152.7 574.0,153.1 574.5,153.4 575.0,153.8 575.5,154.1 576.0,154.5 576.5,154.8 577.0,155.2 577.6,155.5 578.1,155.8 578.6,156.2 579.1,156.5 579.6,156.8 580.2,157.1 580.7,157.4 581.3,157.6 581.9,157.7 582.5,157.8 583.2,157.9 583.9,158.0 584.5,158.0 585.2,158.0 585.9,158.1 586.5,158.3 587.1,158.5 587.6,158.8 588.1,159.1 588.6,159.5 589.2,159.8 589.8,160.0 590.4,160.1 591.0,160.2 591.6,160.5 592.1,160.7 592.7,161.0 593.2,161.3 593.7,161.6 594.3,161.9 594.8,162.2 595.3,162.5 595.8,162.8 596.4,163.2 596.9,163.5 597.4,163.8 598.4,163.3 598.4,163.3 598.3,162.2 597.8,161.8 597.3,161.6 596.7,161.3 596.2,161.0 595.6,160.7 595.1,160.4 594.6,160.1 594.0,159.8 593.5,159.5 593.0,159.2 592.5,158.9 592.0,158.5 591.6,158.0 591.2,157.5 590.7,157.1 590.1,156.8 589.6,156.6 589.1,156.3 588.5,156.0 588.0,155.6 587.6,155.1 587.2,154.6 586.8,154.0 586.5,153.5 586.1,152.9 585.6,152.4 585.2,151.9 584.8,151.5 584.3,151.1 583.8,150.7 583.2,150.4 582.7,150.2 582.2,149.9 581.6,149.6 581.1,149.3 580.5,149.0 580.0,148.8 579.4,148.5 578.9,148.3 578.3,148.0 577.8,147.7 577.2,147.5 576.6,147.2Z M579.3,146.1 579.9,146.4 580.4,146.7 581.0,147.0 581.5,147.3 582.1,147.6 582.6,147.9 583.2,148.2 583.7,148.5 584.3,148.8 584.8,149.1 585.4,149.4 586.0,149.6 586.5,149.9 587.1,150.1 587.7,150.3 588.3,150.4 589.0,150.5 589.7,150.5 590.4,150.5 591.0,150.4 591.7,150.4 592.4,150.4 593.1,150.5 593.7,150.7 594.2,150.9 594.8,151.2 595.4,151.4 595.9,151.7 596.5,151.9 597.2,151.9 597.8,152.0 598.4,152.2 599.0,152.4 599.6,152.6 600.2,152.8 600.8,153.1 601.3,153.3 601.9,153.6 602.5,153.8 603.0,154.1 603.6,154.4 604.2,154.7 604.8,154.9 605.7,154.3 605.7,154.3 605.5,153.2 604.9,152.9 604.3,152.7 603.8,152.5 603.2,152.2 602.6,152.0 602.0,151.7 601.5,151.5 600.9,151.2 600.3,151.0 599.7,150.7 599.2,150.4 598.7,150.1 598.2,149.7 597.7,149.2 597.1,148.9 596.6,148.7 596.0,148.4 595.4,148.2 594.8,148.0 594.3,147.6 593.8,147.2 593.3,146.8 592.9,146.2 592.4,145.7 592.0,145.2 591.5,144.7 591.0,144.3 590.5,143.9 589.9,143.6 589.4,143.3 588.8,143.1 588.2,142.9 587.6,142.6 587.0,142.4 586.4,142.2 585.9,142.0 585.3,141.8 584.7,141.6 584.1,141.4 583.5,141.3 582.9,141.1 582.3,140.9 581.7,140.7Z M584.0,138.9 584.6,139.2 585.2,139.4 585.8,139.7 586.4,140.0 586.9,140.2 587.5,140.5 588.1,140.7 588.7,141.0 589.3,141.2 589.9,141.5 590.5,141.7 591.1,141.9 591.7,142.1 592.3,142.3 592.9,142.4 593.5,142.5 594.2,142.5 594.9,142.4 595.6,142.4 596.3,142.2 597.0,142.1 597.6,142.2 598.3,142.2 598.9,142.2 599.5,142.4 600.1,142.6 600.7,142.8 601.3,143.1 602.0,143.2 602.6,143.2 603.3,143.1 603.9,143.3 604.5,143.4 605.2,143.5 605.8,143.7 606.4,143.9 607.0,144.1 607.6,144.3 608.2,144.5 608.8,144.7 609.4,144.9 610.0,145.1 610.6,145.3 611.5,144.6 611.5,144.6 611.1,143.5 610.6,143.3 609.9,143.1 609.3,143.0 608.7,142.8 608.1,142.6 607.5,142.4 606.9,142.2 606.3,142.1 605.7,141.9 605.1,141.6 604.5,141.4 603.9,141.1 603.4,140.7 602.8,140.3 602.3,140.1 601.6,139.9 601.0,139.8 600.4,139.6 599.8,139.4 599.2,139.1 598.7,138.7 598.1,138.4 597.6,137.9 597.1,137.4 596.6,137.0 596.1,136.5 595.5,136.1 594.9,135.8 594.4,135.6 593.8,135.4 593.1,135.2 592.5,135.1 591.9,134.9 591.3,134.8 590.7,134.7 590.0,134.5 589.4,134.4 588.8,134.3 588.2,134.2 587.5,134.0 586.9,133.9 586.3,133.8 585.7,133.7Z M587.5,131.4 588.1,131.6 588.7,131.8 589.3,132.0 589.9,132.2 590.5,132.4 591.2,132.6 591.8,132.8 592.4,133.0 593.0,133.2 593.6,133.4 594.2,133.6 594.9,133.7 595.5,133.9 596.1,134.0 596.7,134.1 597.4,134.1 598.1,134.0 598.8,133.9 599.4,133.8 600.1,133.6 600.8,133.4 601.5,133.4 602.1,133.4 602.8,133.4 603.4,133.5 604.1,133.6 604.7,133.8 605.3,133.9 605.9,134.0 606.6,133.9 607.3,133.8 607.9,133.9 608.6,133.9 609.2,134.0 609.8,134.1 610.5,134.3 611.1,134.4 611.7,134.5 612.4,134.7 613.0,134.8 613.6,134.9 614.2,135.1 614.9,135.2 615.7,134.4 615.7,134.4 615.2,133.4 614.6,133.2 614.0,133.1 613.3,133.0 612.7,132.9 612.1,132.8 611.4,132.7 610.8,132.5 610.2,132.4 609.6,132.3 608.9,132.1 608.3,131.9 607.7,131.7 607.1,131.4 606.5,131.0 605.9,130.9 605.3,130.8 604.6,130.7 604.0,130.5 603.4,130.4 602.8,130.2 602.2,129.9 601.6,129.6 601.0,129.1 600.5,128.7 599.9,128.3 599.3,128.0 598.7,127.6 598.1,127.4 597.5,127.2 596.9,127.0 596.2,127.0 595.6,126.9 594.9,126.8 594.3,126.8 593.7,126.7 593.0,126.6 592.4,126.6 591.7,126.5 591.1,126.5 590.4,126.4 589.8,126.4 589.1,126.3 588.5,126.3Z M589.6,123.6 590.3,123.8 590.9,123.9 591.6,124.0 592.2,124.2 592.8,124.3 593.5,124.5 594.1,124.6 594.7,124.8 595.4,124.9 596.0,125.0 596.6,125.2 597.3,125.3 597.9,125.4 598.6,125.5 599.2,125.5 599.9,125.4 600.5,125.3 601.2,125.1 601.9,124.9 602.5,124.6 603.2,124.4 603.9,124.3 604.5,124.2 605.2,124.2 605.8,124.2 606.5,124.3 607.1,124.4 607.8,124.5 608.4,124.5 609.1,124.3 609.7,124.2 610.4,124.2 611.0,124.2 611.7,124.2 612.3,124.2 613.0,124.3 613.6,124.4 614.3,124.4 614.9,124.5 615.6,124.6 616.2,124.6 616.8,124.8 617.5,124.8 618.2,123.9 618.2,123.9 617.7,122.9 617.0,122.8 616.4,122.8 615.7,122.8 615.1,122.7 614.4,122.6 613.8,122.6 613.2,122.5 612.5,122.4 611.9,122.4 611.2,122.3 610.6,122.1 610.0,122.0 609.3,121.7 608.7,121.4 608.1,121.3 607.4,121.3 606.8,121.3 606.1,121.2 605.5,121.1 604.9,120.9 604.2,120.7 603.6,120.5 603.0,120.1 602.4,119.8 601.8,119.4 601.1,119.1 600.5,118.8 599.9,118.6 599.3,118.5 598.6,118.5 598.0,118.5 597.3,118.5 596.7,118.5 596.0,118.5 595.4,118.5 594.7,118.5 594.1,118.5 593.4,118.5 592.8,118.5 592.1,118.5 591.5,118.6 590.8,118.6 590.1,118.6Z"/>
<g fill="#0000ff" stroke="#0000ff" stroke-linejoin="round">
<path stroke-width="2.60" d="M579.3,118.7 582.3,118.5 585.3,118.2 587.3,118.0 589.3,117.8 590.8,117.5 592.2,117.2 593.8,116.7 595.4,116.0 596.7,115.6 597.5,115.2 598.0,115.0 598.5,114.7 599.0,114.2 599.3,113.2 599.0,112.3 598.5,111.8 598.0,111.5 597.5,111.2 596.7,110.9 595.4,110.5 593.8,109.8 592.2,109.2 590.8,109.0 589.3,108.8 587.3,108.5 585.3,108.2 582.3,108.0 579.3,107.8Z"/>
<path stroke-width="2.57" d="M579.2,111.9 582.2,111.4 585.1,110.9 587.1,110.4 589.1,110.0 590.5,109.6 591.9,109.2 593.4,108.5 595.0,107.7 596.2,107.1 597.0,106.7 597.4,106.3 597.9,106.0 598.4,105.5 598.6,104.5 598.2,103.7 597.6,103.2 597.1,103.0 596.6,102.7 595.8,102.5 594.4,102.1 592.8,101.7 591.1,101.3 589.7,101.2 588.2,101.0 586.2,101.0 584.1,100.9 581.1,101.0 578.1,101.1Z"/>
<path stroke-width="2.48" d="M577.9,105.2 580.8,104.4 583.7,103.6 585.6,103.0 587.5,102.3 589.0,101.8 590.3,101.3 591.7,100.4 593.2,99.5 594.4,98.7 595.1,98.3 595.5,97.9 595.9,97.5 596.3,96.9 596.5,96.0 596.0,95.1 595.4,94.8 594.8,94.6 594.3,94.4 593.5,94.2 592.1,94.0 590.4,93.7 588.7,93.4 587.3,93.5 585.8,93.5 583.8,93.7 581.7,93.8 578.8,94.2 575.8,94.6Z"/>
<path stroke-width="2.33" d="M575.5,98.8 578.3,97.7 581.1,96.6 582.9,95.8 584.8,94.9 586.1,94.2 587.4,93.6 588.7,92.5 590.1,91.5 591.2,90.6 591.8,90.1 592.2,89.7 592.6,89.2 592.9,88.6 593.0,87.7 592.4,86.9 591.8,86.6 591.2,86.5 590.7,86.3 589.8,86.3 588.4,86.2 586.7,86.1 585.0,86.0 583.6,86.1 582.1,86.3 580.1,86.7 578.1,87.1 575.2,87.8 572.3,88.5Z"/>
<path stroke-width="2.14" d="M572.0,92.7 574.6,91.3 577.3,89.9 579.0,88.9 580.8,87.9 582.0,87.1 583.2,86.3 584.4,85.1 585.7,83.8 586.7,82.9 587.3,82.3 587.6,81.8 588.0,81.4 588.2,80.7 588.2,79.8 587.5,79.1 586.9,78.9 586.3,78.8 585.7,78.7 584.9,78.8 583.5,78.9 581.8,78.9 580.1,79.0 578.7,79.3 577.2,79.6 575.3,80.2 573.3,80.8 570.5,81.8 567.7,82.8Z"/>
<path stroke-width="1.91" d="M567.5,87.1 570.0,85.4 572.5,83.8 574.1,82.6 575.7,81.3 576.9,80.4 578.0,79.4 579.0,78.1 580.1,76.7 581.0,75.7 581.5,75.0 581.8,74.5 582.1,74.0 582.3,73.4 582.2,72.5 581.5,71.9 580.8,71.7 580.2,71.7 579.6,71.7 578.8,71.9 577.4,72.1 575.7,72.3 574.0,72.6 572.7,73.0 571.2,73.5 569.4,74.3 567.5,75.1 564.8,76.4 562.1,77.7Z"/>
<path stroke-width="1.66" d="M562.1,82.0 564.4,80.1 566.7,78.2 568.2,76.8 569.6,75.4 570.7,74.3 571.6,73.2 572.5,71.7 573.4,70.3 574.2,69.1 574.7,68.4 574.9,67.9 575.2,67.4 575.3,66.7 575.0,65.8 574.3,65.3 573.6,65.2 573.0,65.3 572.4,65.4 571.6,65.6 570.3,66.0 568.6,66.4 567.0,66.9 565.7,67.5 564.3,68.1 562.5,69.1 560.8,70.1 558.2,71.7 555.7,73.3Z"/>
<path stroke-width="1.41" d="M556.1,77.6 558.1,75.4 560.2,73.2 561.4,71.6 562.7,70.1 563.6,68.8 564.4,67.7 565.1,66.1 565.8,64.5 566.5,63.3 566.9,62.5 567.0,62.0 567.2,61.4 567.2,60.7 566.9,59.9 566.1,59.5 565.4,59.5 564.9,59.7 564.3,59.8 563.5,60.2 562.3,60.7 560.7,61.4 559.0,62.0 557.8,62.7 556.5,63.5 554.9,64.7 553.3,65.9 551.0,67.9 548.7,69.8Z"/>
<path stroke-width="1.17" d="M549.5,73.8 551.2,71.4 553.0,68.9 554.0,67.2 555.1,65.5 555.8,64.1 556.5,62.9 556.9,61.2 557.4,59.5 557.9,58.2 558.2,57.4 558.3,56.9 558.4,56.3 558.3,55.6 557.9,54.9 557.1,54.6 556.4,54.7 555.9,54.9 555.3,55.1 554.6,55.6 553.4,56.3 551.9,57.1 550.4,57.9 549.2,58.8 548.1,59.8 546.6,61.2 545.2,62.6 543.1,64.8 541.1,67.0Z"/>
<path stroke-width="0.96" d="M542.5,70.7 543.9,68.0 545.2,65.3 546.1,63.5 546.9,61.6 547.4,60.2 547.9,58.8 548.1,57.1 548.3,55.4 548.6,54.0 548.8,53.2 548.8,52.6 548.8,52.1 548.7,51.4 548.2,50.7 547.3,50.6 546.7,50.8 546.2,51.1 545.7,51.4 545.0,51.9 544.0,52.8 542.6,53.8 541.2,54.8 540.1,55.9 539.2,57.0 537.9,58.6 536.7,60.2 535.0,62.7 533.2,65.1Z"/>
<path stroke-width="0.79" d="M535.2,68.1 536.2,65.3 537.1,62.4 537.7,60.5 538.2,58.6 538.5,57.1 538.8,55.6 538.7,53.9 538.7,52.2 538.8,50.8 538.8,49.9 538.8,49.4 538.7,48.8 538.5,48.2 537.9,47.6 537.0,47.6 536.4,47.9 536.0,48.2 535.5,48.6 535.0,49.2 534.1,50.2 532.8,51.5 531.5,52.7 530.7,53.8 529.9,55.1 528.9,56.9 527.9,58.6 526.6,61.3 525.2,64.0Z"/>
<path stroke-width="0.67" d="M527.7,66.2 528.2,63.2 528.7,60.3 528.9,58.3 529.2,56.3 529.3,54.7 529.3,53.3 528.9,51.6 528.6,49.8 528.5,48.5 528.5,47.6 528.3,47.1 528.2,46.5 527.9,46.0 527.2,45.5 526.3,45.6 525.8,46.0 525.4,46.4 525.0,46.8 524.6,47.5 523.8,48.7 522.8,50.1 521.7,51.5 521.0,52.7 520.4,54.1 519.7,56.0 519.0,57.9 518.1,60.8 517.2,63.6Z"/>
<path stroke-width="0.61" d="M520.0,64.8 520.0,61.8 520.1,58.8 520.0,56.7 519.9,54.7 519.8,53.2 519.5,51.8 518.9,50.1 518.4,48.5 518.0,47.2 517.8,46.3 517.6,45.8 517.4,45.3 517.0,44.8 516.2,44.4 515.4,44.6 514.9,45.1 514.6,45.6 514.3,46.1 514.0,46.8 513.4,48.1 512.6,49.6 511.8,51.2 511.3,52.5 510.9,54.0 510.5,56.0 510.1,58.0 509.7,60.9 509.2,63.9Z"/>
<path stroke-width="0.61" d="M512.2,63.9 511.7,60.9 511.3,58.0 510.9,56.0 510.5,54.0 510.1,52.5 509.6,51.2 508.8,49.6 508.0,48.1 507.4,46.8 507.1,46.1 506.8,45.6 506.5,45.1 506.0,44.6 505.2,44.4 504.4,44.8 504.0,45.3 503.8,45.8 503.6,46.3 503.4,47.2 503.0,48.5 502.5,50.1 501.9,51.8 501.6,53.2 501.5,54.7 501.4,56.7 501.3,58.8 501.4,61.8 501.4,64.8Z"/>
<path stroke-width="0.67" d="M504.2,63.6 503.3,60.8 502.4,57.9 501.7,56.0 501.0,54.1 500.4,52.7 499.7,51.5 498.6,50.1 497.6,48.7 496.8,47.5 496.4,46.8 496.0,46.4 495.6,46.0 495.1,45.6 494.2,45.5 493.5,46.0 493.2,46.5 493.1,47.1 492.9,47.6 492.9,48.5 492.8,49.8 492.5,51.6 492.1,53.3 492.1,54.7 492.2,56.3 492.5,58.3 492.7,60.3 493.2,63.2 493.7,66.2Z"/>
<path stroke-width="0.79" d="M496.2,64.0 494.8,61.3 493.5,58.6 492.5,56.9 491.5,55.1 490.7,53.8 489.9,52.7 488.6,51.5 487.3,50.2 486.4,49.2 485.9,48.6 485.4,48.2 485.0,47.9 484.4,47.6 483.5,47.6 482.9,48.2 482.7,48.8 482.6,49.4 482.6,49.9 482.6,50.8 482.7,52.2 482.7,53.9 482.6,55.6 482.9,57.1 483.2,58.6 483.7,60.5 484.3,62.4 485.2,65.3 486.2,68.1Z"/>
<path stroke-width="0.96" d="M488.2,65.1 486.4,62.7 484.7,60.2 483.5,58.6 482.2,57.0 481.3,55.9 480.2,54.8 478.8,53.8 477.4,52.8 476.4,51.9 475.7,51.4 475.2,51.1 474.7,50.8 474.1,50.6 473.2,50.7 472.7,51.4 472.6,52.1 472.6,52.6 472.6,53.2 472.8,54.0 473.1,55.4 473.3,57.1 473.5,58.8 474.0,60.2 474.5,61.6 475.3,63.5 476.2,65.3 477.5,68.0 478.9,70.7Z"/>
<path stroke-width="1.17" d="M480.3,67.0 478.3,64.8 476.2,62.6 474.8,61.2 473.3,59.8 472.2,58.8 471.0,57.9 469.5,57.1 468.0,56.3 466.8,55.6 466.1,55.1 465.5,54.9 465.0,54.7 464.3,54.6 463.5,54.9 463.1,55.6 463.0,56.3 463.1,56.9 463.2,57.4 463.5,58.2 464.0,59.5 464.5,61.2 464.9,62.9 465.6,64.1 466.3,65.5 467.4,67.2 468.4,68.9 470.2,71.4 471.9,73.8Z"/>
<path stroke-width="1.41" d="M472.7,69.8 470.4,67.9 468.1,65.9 466.5,64.7 464.9,63.5 463.6,62.7 462.4,62.0 460.7,61.4 459.1,60.7 457.9,60.2 457.1,59.8 456.5,59.7 456.0,59.5 455.3,59.5 454.5,59.9 454.2,60.7 454.2,61.4 454.4,62.0 454.5,62.5 454.9,63.3 455.6,64.5 456.3,66.1 457.0,67.7 457.8,68.8 458.7,70.1 460.0,71.6 461.2,73.2 463.3,75.4 465.3,77.6Z"/>
<path stroke-width="1.66" d="M465.7,73.3 463.2,71.7 460.6,70.1 458.9,69.1 457.1,68.1 455.7,67.5 454.4,66.9 452.8,66.4 451.1,66.0 449.8,65.6 449.0,65.4 448.4,65.3 447.8,65.2 447.1,65.3 446.4,65.8 446.1,66.7 446.2,67.4 446.5,67.9 446.7,68.4 447.2,69.1 448.0,70.3 448.9,71.7 449.8,73.2 450.7,74.3 451.8,75.4 453.2,76.8 454.7,78.2 457.0,80.1 459.3,82.0Z"/>
<path stroke-width="1.91" d="M459.3,77.7 456.6,76.4 453.9,75.1 452.0,74.3 450.2,73.5 448.7,73.0 447.4,72.6 445.7,72.3 444.0,72.1 442.6,71.9 441.8,71.7 441.2,71.7 440.6,71.7 439.9,71.9 439.2,72.5 439.1,73.4 439.3,74.0 439.6,74.5 439.9,75.0 440.4,75.7 441.3,76.7 442.4,78.1 443.4,79.4 444.5,80.4 445.7,81.3 447.3,82.6 448.9,83.8 451.4,85.4 453.9,87.1Z"/>
<path stroke-width="2.14" d="M453.7,82.8 450.9,81.8 448.1,80.8 446.1,80.2 444.2,79.6 442.7,79.3 441.3,79.0 439.6,78.9 437.9,78.9 436.5,78.8 435.7,78.7 435.1,78.8 434.5,78.9 433.9,79.1 433.2,79.8 433.2,80.7 433.4,81.4 433.8,81.8 434.1,82.3 434.7,82.9 435.7,83.8 437.0,85.1 438.2,86.3 439.4,87.1 440.6,87.9 442.4,88.9 444.1,89.9 446.8,91.3 449.4,92.7Z"/>
<path stroke-width="2.33" d="M449.1,88.5 446.2,87.8 443.3,87.1 441.3,86.7 439.3,86.3 437.8,86.1 436.4,86.0 434.7,86.1 433.0,86.2 431.6,86.3 430.7,86.3 430.2,86.5 429.6,86.6 429.0,86.9 428.4,87.7 428.5,88.6 428.8,89.2 429.2,89.7 429.6,90.1 430.2,90.6 431.3,91.5 432.7,92.5 434.0,93.6 435.3,94.2 436.6,94.9 438.5,95.8 440.3,96.6 443.1,97.7 445.9,98.8Z"/>
<path stroke-width="2.48" d="M445.6,94.6 442.6,94.2 439.7,93.8 437.6,93.7 435.6,93.5 434.1,93.5 432.7,93.4 431.0,93.7 429.3,94.0 427.9,94.2 427.1,94.4 426.6,94.6 426.0,94.8 425.4,95.1 424.9,96.0 425.1,96.9 425.5,97.5 425.9,97.9 426.3,98.3 427.0,98.7 428.2,99.5 429.7,100.4 431.1,101.3 432.4,101.8 433.9,102.3 435.8,103.0 437.7,103.6 440.6,104.4 443.5,105.2Z"/>
<path stroke-width="2.57" d="M443.3,101.1 440.3,101.0 437.3,100.9 435.2,101.0 433.2,101.0 431.7,101.2 430.3,101.3 428.6,101.7 427.0,102.1 425.6,102.5 424.8,102.7 424.3,103.0 423.8,103.2 423.2,103.7 422.8,104.5 423.0,105.5 423.5,106.0 424.0,106.3 424.4,106.7 425.2,107.1 426.4,107.7 428.0,108.5 429.5,109.2 430.9,109.6 432.3,110.0 434.3,110.4 436.3,110.9 439.2,111.4 442.2,111.9Z"/>
<path stroke-width="2.60" d="M442.1,107.8 439.1,108.0 436.1,108.2 434.1,108.5 432.1,108.7 430.6,109.0 429.2,109.2 427.6,109.8 426.0,110.4 424.7,110.9 423.9,111.2 423.4,111.5 422.9,111.8 422.4,112.3 422.1,113.2 422.4,114.1 422.9,114.6 423.4,114.9 423.9,115.2 424.7,115.6 426.0,116.0 427.6,116.6 429.2,117.2 430.6,117.5 432.1,117.7 434.1,118.0 436.1,118.2 439.1,118.4 442.1,118.6Z"/>
<path stroke-width="2.57" d="M442.2,114.6 439.2,115.1 436.3,115.6 434.3,116.1 432.3,116.5 430.9,116.9 429.5,117.3 428.0,118.0 426.4,118.8 425.2,119.4 424.4,119.8 424.0,120.2 423.5,120.5 423.0,121.0 422.8,122.0 423.2,122.8 423.8,123.3 424.3,123.5 424.8,123.8 425.6,124.0 427.0,124.4 428.6,124.8 430.3,125.2 431.7,125.3 433.2,125.5 435.2,125.5 437.3,125.6 440.3,125.5 443.3,125.4Z"/>
<path stroke-width="2.48" d="M443.5,121.3 440.6,122.1 437.7,122.9 435.8,123.5 433.9,124.2 432.4,124.7 431.1,125.2 429.7,126.1 428.2,127.0 427.0,127.8 426.3,128.2 425.9,128.6 425.5,129.0 425.1,129.6 424.9,130.5 425.4,131.4 426.0,131.7 426.6,131.9 427.1,132.1 427.9,132.3 429.3,132.5 431.0,132.8 432.7,133.1 434.1,133.0 435.6,133.0 437.6,132.8 439.7,132.7 442.6,132.3 445.6,131.9Z"/>
<path stroke-width="2.33" d="M445.9,127.7 443.1,128.8 440.3,129.9 438.5,130.7 436.6,131.6 435.3,132.3 434.0,132.9 432.7,134.0 431.3,135.0 430.2,135.9 429.6,136.4 429.2,136.8 428.8,137.3 428.5,137.9 428.4,138.8 429.0,139.6 429.6,139.9 430.2,140.0 430.7,140.2 431.6,140.2 433.0,140.3 434.7,140.4 436.4,140.5 437.8,140.4 439.3,140.2 441.3,139.8 443.3,139.4 446.2,138.7 449.1,138.0Z"/>
<path stroke-width="2.14" d="M449.4,133.8 446.8,135.2 444.1,136.6 442.4,137.6 440.6,138.6 439.4,139.4 438.2,140.2 437.0,141.4 435.7,142.7 434.7,143.6 434.1,144.2 433.8,144.7 433.4,145.1 433.2,145.8 433.2,146.7 433.9,147.4 434.5,147.6 435.1,147.7 435.7,147.8 436.5,147.7 437.9,147.6 439.6,147.6 441.3,147.5 442.7,147.2 444.2,146.9 446.1,146.3 448.1,145.7 450.9,144.7 453.7,143.7Z"/>
<path stroke-width="1.91" d="M453.9,139.4 451.4,141.1 448.9,142.7 447.3,143.9 445.7,145.2 444.5,146.1 443.4,147.1 442.4,148.4 441.3,149.8 440.4,150.8 439.9,151.5 439.6,152.0 439.3,152.5 439.1,153.1 439.2,154.0 439.9,154.6 440.6,154.8 441.2,154.8 441.8,154.8 442.6,154.6 444.0,154.4 445.7,154.2 447.4,153.9 448.7,153.5 450.2,153.0 452.0,152.2 453.9,151.4 456.6,150.1 459.3,148.8Z"/>
<path stroke-width="1.66" d="M459.3,144.5 457.0,146.4 454.7,148.3 453.2,149.7 451.8,151.1 450.7,152.2 449.8,153.3 448.9,154.8 448.0,156.2 447.2,157.4 446.7,158.1 446.5,158.6 446.2,159.1 446.1,159.8 446.4,160.7 447.1,161.2 447.8,161.3 448.4,161.2 449.0,161.1 449.8,160.9 451.1,160.5 452.8,160.1 454.4,159.6 455.7,159.0 457.1,158.4 458.9,157.4 460.6,156.4 463.2,154.8 465.7,153.2Z"/>
<path stroke-width="1.41" d="M465.3,148.9 463.3,151.1 461.2,153.3 460.0,154.9 458.7,156.4 457.8,157.7 457.0,158.8 456.3,160.4 455.6,162.0 454.9,163.2 454.5,164.0 454.4,164.5 454.2,165.1 454.2,165.8 454.5,166.6 455.3,167.0 456.0,167.0 456.5,166.8 457.1,166.7 457.9,166.3 459.1,165.8 460.7,165.1 462.4,164.5 463.6,163.8 464.9,163.0 466.5,161.8 468.1,160.6 470.4,158.6 472.7,156.7Z"/>
<path stroke-width="1.17" d="M471.9,152.7 470.2,155.1 468.4,157.6 467.4,159.3 466.3,161.0 465.6,162.4 464.9,163.6 464.5,165.3 464.0,167.0 463.5,168.3 463.2,169.1 463.1,169.6 463.0,170.2 463.1,170.9 463.5,171.6 464.3,171.9 465.0,171.8 465.5,171.6 466.1,171.4 466.8,170.9 468.0,170.2 469.5,169.4 471.0,168.6 472.2,167.7 473.3,166.7 474.8,165.3 476.2,163.9 478.3,161.7 480.3,159.5Z"/>
<path stroke-width="0.96" d="M478.9,155.8 477.5,158.5 476.2,161.2 475.3,163.0 474.5,164.9 474.0,166.3 473.5,167.7 473.3,169.4 473.1,171.1 472.8,172.5 472.6,173.3 472.6,173.9 472.6,174.4 472.7,175.1 473.2,175.8 474.1,175.9 474.7,175.7 475.2,175.4 475.7,175.1 476.4,174.6 477.4,173.7 478.8,172.7 480.2,171.7 481.3,170.6 482.2,169.5 483.5,167.9 484.7,166.3 486.4,163.8 488.2,161.4Z"/>
<path stroke-width="0.79" d="M486.2,158.4 485.2,161.2 484.3,164.1 483.7,166.0 483.2,167.9 482.9,169.4 482.6,170.9 482.7,172.6 482.7,174.3 482.6,175.7 482.6,176.6 482.6,177.1 482.7,177.7 482.9,178.3 483.5,178.9 484.4,178.9 485.0,178.6 485.4,178.3 485.9,177.9 486.4,177.3 487.3,176.3 488.6,175.0 489.9,173.8 490.7,172.7 491.5,171.4 492.5,169.6 493.5,167.9 494.8,165.2 496.2,162.5Z"/>
<path stroke-width="0.67" d="M493.7,160.3 493.2,163.3 492.7,166.2 492.5,168.2 492.2,170.2 492.1,171.8 492.1,173.2 492.5,174.9 492.8,176.7 492.9,178.0 492.9,178.9 493.1,179.4 493.2,180.0 493.5,180.5 494.2,181.0 495.1,180.9 495.6,180.5 496.0,180.1 496.4,179.7 496.8,179.0 497.6,177.8 498.6,176.4 499.7,175.0 500.4,173.8 501.0,172.4 501.7,170.5 502.4,168.6 503.3,165.7 504.2,162.9Z"/>
<path stroke-width="0.61" d="M501.4,161.7 501.4,164.7 501.3,167.7 501.4,169.8 501.5,171.8 501.6,173.3 501.9,174.7 502.5,176.4 503.0,178.0 503.4,179.3 503.6,180.2 503.8,180.7 504.0,181.2 504.4,181.7 505.2,182.1 506.0,181.9 506.5,181.4 506.8,180.9 507.1,180.4 507.4,179.7 508.0,178.4 508.8,176.9 509.6,175.3 510.1,174.0 510.5,172.5 510.9,170.5 511.3,168.5 511.7,165.6 512.2,162.6Z"/>
<path stroke-width="0.61" d="M509.2,162.6 509.7,165.6 510.1,168.5 510.5,170.5 510.9,172.5 511.3,174.0 511.8,175.3 512.6,176.9 513.4,178.4 514.0,179.7 514.3,180.4 514.6,180.9 514.9,181.4 515.4,181.9 516.2,182.1 517.0,181.7 517.4,181.2 517.6,180.7 517.8,180.2 518.0,179.3 518.4,178.0 518.9,176.4 519.5,174.7 519.8,173.3 519.9,171.8 520.0,169.8 520.1,167.7 520.0,164.7 520.0,161.7Z"/>
<path stroke-width="0.67" d="M517.2,162.9 518.1,165.7 519.0,168.6 519.7,170.5 520.4,172.4 521.0,173.8 521.7,175.0 522.8,176.4 523.8,177.8 524.6,179.0 525.0,179.7 525.4,180.1 525.8,180.5 526.3,180.9 527.2,181.0 527.9,180.5 528.2,180.0 528.3,179.4 528.5,178.9 528.5,178.0 528.6,176.7 528.9,174.9 529.3,173.2 529.3,171.8 529.2,170.2 528.9,168.2 528.7,166.2 528.2,163.3 527.7,160.3Z"/>
<path stroke-width="0.79" d="M525.2,162.5 526.6,165.2 527.9,167.9 528.9,169.6 529.9,171.4 530.7,172.7 531.5,173.8 532.8,175.0 534.1,176.3 535.0,177.3 535.5,177.9 536.0,178.3 536.4,178.6 537.0,178.9 537.9,178.9 538.5,178.3 538.7,177.7 538.8,177.1 538.8,176.6 538.8,175.7 538.7,174.3 538.7,172.6 538.8,170.9 538.5,169.4 538.2,167.9 537.7,166.0 537.1,164.1 536.2,161.2 535.2,158.4Z"/>
<path stroke-width="0.96" d="M533.2,161.4 535.0,163.8 536.7,166.3 537.9,167.9 539.2,169.5 540.1,170.6 541.2,171.7 542.6,172.7 544.0,173.7 545.0,174.6 545.7,175.1 546.2,175.4 546.7,175.7 547.3,175.9 548.2,175.8 548.7,175.1 548.8,174.4 548.8,173.9 548.8,173.3 548.6,172.5 548.3,171.1 548.1,169.4 547.9,167.7 547.4,166.3 546.9,164.9 546.1,163.0 545.2,161.2 543.9,158.5 542.5,155.8Z"/>
<path stroke-width="1.17" d="M541.1,159.5 543.1,161.7 545.2,163.9 546.6,165.3 548.1,166.7 549.2,167.7 550.4,168.6 551.9,169.4 553.4,170.2 554.6,170.9 555.3,171.4 555.9,171.6 556.4,171.8 557.1,171.9 557.9,171.6 558.3,170.9 558.4,170.2 558.3,169.6 558.2,169.1 557.9,168.3 557.4,167.0 556.9,165.3 556.5,163.6 555.8,162.4 555.1,161.0 554.0,159.3 553.0,157.6 551.2,155.1 549.5,152.7Z"/>
<path stroke-width="1.41" d="M548.7,156.7 551.0,158.6 553.3,160.6 554.9,161.8 556.5,163.0 557.8,163.8 559.0,164.5 560.7,165.1 562.3,165.8 563.5,166.3 564.3,166.7 564.9,166.8 565.4,167.0 566.1,167.0 566.9,166.6 567.2,165.8 567.2,165.1 567.0,164.5 566.9,164.0 566.5,163.2 565.8,162.0 565.1,160.4 564.4,158.8 563.6,157.7 562.7,156.4 561.4,154.9 560.2,153.3 558.1,151.1 556.1,148.9Z"/>
<path stroke-width="1.66" d="M555.7,153.2 558.2,154.8 560.8,156.4 562.5,157.4 564.3,158.4 565.7,159.0 567.0,159.6 568.6,160.1 570.3,160.5 571.6,160.9 572.4,161.1 573.0,161.2 573.6,161.3 574.3,161.2 575.0,160.7 575.3,159.8 575.2,159.1 574.9,158.6 574.7,158.1 574.2,157.4 573.4,156.2 572.5,154.8 571.6,153.3 570.7,152.2 569.6,151.1 568.2,149.7 566.7,148.3 564.4,146.4 562.1,144.5Z"/>
<path stroke-width="1.91" d="M562.1,148.8 564.8,150.1 567.5,151.4 569.4,152.2 571.2,153.0 572.7,153.5 574.0,153.9 575.7,154.2 577.4,154.4 578.8,154.6 579.6,154.8 580.2,154.8 580.8,154.8 581.5,154.6 582.2,154.0 582.3,153.1 582.1,152.5 581.8,152.0 581.5,151.5 581.0,150.8 580.1,149.8 579.0,148.4 578.0,147.1 576.9,146.1 575.7,145.2 574.1,143.9 572.5,142.7 570.0,141.1 567.5,139.4Z"/>
<path stroke-width="2.14" d="M567.7,143.7 570.5,144.7 573.3,145.7 575.3,146.3 577.2,146.9 578.7,147.2 580.1,147.5 581.8,147.6 583.5,147.6 584.9,147.7 585.7,147.8 586.3,147.7 586.9,147.6 587.5,147.4 588.2,146.7 588.2,145.8 588.0,145.1 587.6,144.7 587.3,144.2 586.7,143.6 585.7,142.7 584.4,141.4 583.2,140.2 582.0,139.4 580.8,138.6 579.0,137.6 577.3,136.6 574.6,135.2 572.0,133.8Z"/>
<path stroke-width="2.33" d="M572.3,138.0 575.2,138.7 578.1,139.4 580.1,139.8 582.1,140.2 583.6,140.4 585.0,140.5 586.7,140.4 588.4,140.3 589.8,140.2 590.7,140.2 591.2,140.0 591.8,139.9 592.4,139.6 593.0,138.8 592.9,137.9 592.6,137.3 592.2,136.8 591.8,136.4 591.2,135.9 590.1,135.0 588.7,134.0 587.4,132.9 586.1,132.3 584.8,131.6 582.9,130.7 581.1,129.9 578.3,128.8 575.5,127.7Z"/>
<path stroke-width="2.48" d="M575.8,131.9 578.8,132.3 581.7,132.7 583.8,132.8 585.8,133.0 587.3,133.0 588.7,133.1 590.4,132.8 592.1,132.5 593.5,132.3 594.3,132.1 594.8,131.9 595.4,131.7 596.0,131.4 596.5,130.5 596.3,129.6 595.9,129.0 595.5,128.6 595.1,128.2 594.4,127.8 593.2,127.0 591.7,126.1 590.3,125.2 589.0,124.7 587.5,124.2 585.6,123.5 583.7,122.9 580.8,122.1 577.9,121.3Z"/>
<path stroke-width="2.57" d="M578.1,125.4 581.1,125.5 584.1,125.6 586.2,125.5 588.2,125.5 589.7,125.3 591.1,125.2 592.8,124.8 594.4,124.4 595.8,124.0 596.6,123.8 597.1,123.5 597.6,123.3 598.2,122.8 598.6,122.0 598.4,121.0 597.9,120.5 597.4,120.2 597.0,119.8 596.2,119.4 595.0,118.8 593.4,118.0 591.9,117.3 590.5,116.9 589.1,116.5 587.1,116.1 585.1,115.6 582.2,115.1 579.2,114.6Z"/>
</g>
<path fill="none" stroke="#00009a" stroke-width="1.1" stroke-linecap="round" d="M606.7,113.2 L618.7,113.2 M605.9,103.8 L617.9,102.6 M603.6,94.5 L615.3,92.2 M599.9,85.5 L611.2,82.0 M594.7,77.0 L605.4,72.4 M588.2,69.1 L598.1,63.4 M580.4,61.8 L589.5,55.2 M571.6,55.4 L579.6,47.9 M561.9,49.9 L568.6,41.6 M551.3,45.5 L556.7,36.4 M540.2,42.0 L544.1,32.5 M528.6,39.7 L531.0,29.9 M516.7,38.6 L517.5,28.5 M504.7,38.6 L503.9,28.5 M492.8,39.7 L490.4,29.9 M481.2,42.0 L477.3,32.5 M470.1,45.5 L464.7,36.4 M459.5,49.9 L452.8,41.6 M449.8,55.4 L441.8,47.9 M441.0,61.8 L431.9,55.2 M433.2,69.1 L423.3,63.4 M426.7,77.0 L416.0,72.4 M421.5,85.5 L410.2,82.0 M417.8,94.5 L406.1,92.2 M415.5,103.8 L403.5,102.6 M414.7,113.2 L402.7,113.2 M415.5,122.7 L403.5,123.9 M417.8,132.0 L406.1,134.3 M421.5,141.0 L410.2,144.5 M426.7,149.5 L416.0,154.1 M433.2,157.4 L423.3,163.1 M441.0,164.7 L431.9,171.3 M449.8,171.1 L441.8,178.6 M459.5,176.6 L452.8,184.9 M470.1,181.0 L464.7,190.1 M481.2,184.5 L477.3,194.0 M492.8,186.8 L490.4,196.6 M504.7,187.9 L503.9,198.0 M516.7,187.9 L517.5,198.0 M528.6,186.8 L531.0,196.6 M540.2,184.5 L544.1,194.0 M551.3,181.0 L556.7,190.1 M561.9,176.6 L568.6,184.9 M571.6,171.1 L579.6,178.6 M580.4,164.7 L589.5,171.3 M588.2,157.4 L598.1,163.1 M594.7,149.5 L605.4,154.1 M599.9,141.0 L611.2,144.5 M603.6,132.0 L615.3,134.3 M605.9,122.7 L617.9,123.9"/>
<g fill="#ff0000">
<ellipse cx="510.7" cy="113.25" rx="71.23" ry="55.94"/>
<path d="M579.3,118.7 582.3,118.5 585.3,118.2 587.3,118.0 589.3,117.8 590.8,117.5 592.2,117.2 593.8,116.7 595.4,116.0 596.7,115.6 597.5,115.2 598.0,115.0 598.5,114.7 599.0,114.2 599.3,113.2 599.0,112.3 598.5,111.8 598.0,111.5 597.5,111.2 596.7,110.9 595.4,110.5 593.8,109.8 592.2,109.2 590.8,109.0 589.3,108.8 587.3,108.5 585.3,108.2 582.3,108.0 579.3,107.8Z M579.2,111.9 582.2,111.4 585.1,110.9 587.1,110.4 589.1,110.0 590.5,109.6 591.9,109.2 593.4,108.5 595.0,107.7 596.2,107.1 597.0,106.7 597.4,106.3 597.9,106.0 598.4,105.5 598.6,104.5 598.2,103.7 597.6,103.2 597.1,103.0 596.6,102.7 595.8,102.5 594.4,102.1 592.8,101.7 591.1,101.3 589.7,101.2 588.2,101.0 586.2,101.0 584.1,100.9 581.1,101.0 578.1,101.1Z M577.9,105.2 580.8,104.4 583.7,103.6 585.6,103.0 587.5,102.3 589.0,101.8 590.3,101.3 591.7,100.4 593.2,99.5 594.4,98.7 595.1,98.3 595.5,97.9 595.9,97.5 596.3,96.9 596.5,96.0 596.0,95.1 595.4,94.8 594.8,94.6 594.3,94.4 593.5,94.2 592.1,94.0 590.4,93.7 588.7,93.4 587.3,93.5 585.8,93.5 583.8,93.7 581.7,93.8 578.8,94.2 575.8,94.6Z M575.5,98.8 578.3,97.7 581.1,96.6 582.9,95.8 584.8,94.9 586.1,94.2 587.4,93.6 588.7,92.5 590.1,91.5 591.2,90.6 591.8,90.1 592.2,89.7 592.6,89.2 592.9,88.6 593.0,87.7 592.4,86.9 591.8,86.6 591.2,86.5 590.7,86.3 589.8,86.3 588.4,86.2 586.7,86.1 585.0,86.0 583.6,86.1 582.1,86.3 580.1,86.7 578.1,87.1 575.2,87.8 572.3,88.5Z M572.0,92.7 574.6,91.3 577.3,89.9 579.0,88.9 580.8,87.9 582.0,87.1 583.2,86.3 584.4,85.1 585.7,83.8 586.7,82.9 587.3,82.3 587.6,81.8 588.0,81.4 588.2,80.7 588.2,79.8 587.5,79.1 586.9,78.9 586.3,78.8 585.7,78.7 584.9,78.8 583.5,78.9 581.8,78.9 580.1,79.0 578.7,79.3 577.2,79.6 575.3,80.2 573.3,80.8 570.5,81.8 567.7,82.8Z M567.5,87.1 570.0,85.4 572.5,83.8 574.1,82.6 575.7,81.3 576.9,80.4 578.0,79.4 579.0,78.1 580.1,76.7 581.0,75.7 581.5,75.0 581.8,74.5 582.1,74.0 582.3,73.4 582.2,72.5 581.5,71.9 580.8,71.7 580.2,71.7 579.6,71.7 578.8,71.9 577.4,72.1 575.7,72.3 574.0,72.6 572.7,73.0 571.2,73.5 569.4,74.3 567.5,75.1 564.8,76.4 562.1,77.7Z M562.1,82.0 564.4,80.1 566.7,78.2 568.2,76.8 569.6,75.4 570.7,74.3 571.6,73.2 572.5,71.7 573.4,70.3 574.2,69.1 574.7,68.4 574.9,67.9 575.2,67.4 575.3,66.7 575.0,65.8 574.3,65.3 573.6,65.2 573.0,65.3 572.4,65.4 571.6,65.6 570.3,66.0 568.6,66.4 567.0,66.9 565.7,67.5 564.3,68.1 562.5,69.1 560.8,70.1 558.2,71.7 555.7,73.3Z M556.1,77.6 558.1,75.4 560.2,73.2 561.4,71.6 562.7,70.1 563.6,68.8 564.4,67.7 565.1,66.1 565.8,64.5 566.5,63.3 566.9,62.5 567.0,62.0 567.2,61.4 567.2,60.7 566.9,59.9 566.1,59.5 565.4,59.5 564.9,59.7 564.3,59.8 563.5,60.2 562.3,60.7 560.7,61.4 559.0,62.0 557.8,62.7 556.5,63.5 554.9,64.7 553.3,65.9 551.0,67.9 548.7,69.8Z M549.5,73.8 551.2,71.4 553.0,68.9 554.0,67.2 555.1,65.5 555.8,64.1 556.5,62.9 556.9,61.2 557.4,59.5 557.9,58.2 558.2,57.4 558.3,56.9 558.4,56.3 558.3,55.6 557.9,54.9 557.1,54.6 556.4,54.7 555.9,54.9 555.3,55.1 554.6,55.6 553.4,56.3 551.9,57.1 550.4,57.9 549.2,58.8 548.1,59.8 546.6,61.2 545.2,62.6 543.1,64.8 541.1,67.0Z M542.5,70.7 543.9,68.0 545.2,65.3 546.1,63.5 546.9,61.6 547.4,60.2 547.9,58.8 548.1,57.1 548.3,55.4 548.6,54.0 548.8,53.2 548.8,52.6 548.8,52.1 548.7,51.4 548.2,50.7 547.3,50.6 546.7,50.8 546.2,51.1 545.7,51.4 545.0,51.9 544.0,52.8 542.6,53.8 541.2,54.8 540.1,55.9 539.2,57.0 537.9,58.6 536.7,60.2 535.0,62.7 533.2,65.1Z M535.2,68.1 536.2,65.3 537.1,62.4 537.7,60.5 538.2,58.6 538.5,57.1 538.8,55.6 538.7,53.9 538.7,52.2 538.8,50.8 538.8,49.9 538.8,49.4 538.7,48.8 538.5,48.2 537.9,47.6 537.0,47.6 536.4,47.9 536.0,48.2 535.5,48.6 535.0,49.2 534.1,50.2 532.8,51.5 531.5,52.7 530.7,53.8 529.9,55.1 528.9,56.9 527.9,58.6 526.6,61.3 525.2,64.0Z M527.7,66.2 528.2,63.2 528.7,60.3 528.9,58.3 529.2,56.3 529.3,54.7 529.3,53.3 528.9,51.6 528.6,49.8 528.5,48.5 528.5,47.6 528.3,47.1 528.2,46.5 527.9,46.0 527.2,45.5 526.3,45.6 525.8,46.0 525.4,46.4 525.0,46.8 524.6,47.5 523.8,48.7 522.8,50.1 521.7,51.5 521.0,52.7 520.4,54.1 519.7,56.0 519.0,57.9 518.1,60.8 517.2,63.6Z M520.0,64.8 520.0,61.8 520.1,58.8 520.0,56.7 519.9,54.7 519.8,53.2 519.5,51.8 518.9,50.1 518.4,48.5 518.0,47.2 517.8,46.3 517.6,45.8 517.4,45.3 517.0,44.8 516.2,44.4 515.4,44.6 514.9,45.1 514.6,45.6 514.3,46.1 514.0,46.8 513.4,48.1 512.6,49.6 511.8,51.2 511.3,52.5 510.9,54.0 510.5,56.0 510.1,58.0 509.7,60.9 509.2,63.9Z M512.2,63.9 511.7,60.9 511.3,58.0 510.9,56.0 510.5,54.0 510.1,52.5 509.6,51.2 508.8,49.6 508.0,48.1 507.4,46.8 507.1,46.1 506.8,45.6 506.5,45.1 506.0,44.6 505.2,44.4 504.4,44.8 504.0,45.3 503.8,45.8 503.6,46.3 503.4,47.2 503.0,48.5 502.5,50.1 501.9,51.8 501.6,53.2 501.5,54.7 501.4,56.7 501.3,58.8 501.4,61.8 501.4,64.8Z M504.2,63.6 503.3,60.8 502.4,57.9 501.7,56.0 501.0,54.1 500.4,52.7 499.7,51.5 498.6,50.1 497.6,48.7 496.8,47.5 496.4,46.8 496.0,46.4 495.6,46.0 495.1,45.6 494.2,45.5 493.5,46.0 493.2,46.5 493.1,47.1 492.9,47.6 492.9,48.5 492.8,49.8 492.5,51.6 492.1,53.3 492.1,54.7 492.2,56.3 492.5,58.3 492.7,60.3 493.2,63.2 493.7,66.2Z M496.2,64.0 494.8,61.3 493.5,58.6 492.5,56.9 491.5,55.1 490.7,53.8 489.9,52.7 488.6,51.5 487.3,50.2 486.4,49.2 485.9,48.6 485.4,48.2 485.0,47.9 484.4,47.6 483.5,47.6 482.9,48.2 482.7,48.8 482.6,49.4 482.6,49.9 482.6,50.8 482.7,52.2 482.7,53.9 482.6,55.6 482.9,57.1 483.2,58.6 483.7,60.5 484.3,62.4 485.2,65.3 486.2,68.1Z M488.2,65.1 486.4,62.7 484.7,60.2 483.5,58.6 482.2,57.0 481.3,55.9 480.2,54.8 478.8,53.8 477.4,52.8 476.4,51.9 475.7,51.4 475.2,51.1 474.7,50.8 474.1,50.6 473.2,50.7 472.7,51.4 472.6,52.1 472.6,52.6 472.6,53.2 472.8,54.0 473.1,55.4 473.3,57.1 473.5,58.8 474.0,60.2 474.5,61.6 475.3,63.5 476.2,65.3 477.5,68.0 478.9,70.7Z M480.3,67.0 478.3,64.8 476.2,62.6 474.8,61.2 473.3,59.8 472.2,58.8 471.0,57.9 469.5,57.1 468.0,56.3 466.8,55.6 466.1,55.1 465.5,54.9 465.0,54.7 464.3,54.6 463.5,54.9 463.1,55.6 463.0,56.3 463.1,56.9 463.2,57.4 463.5,58.2 464.0,59.5 464.5,61.2 464.9,62.9 465.6,64.1 466.3,65.5 467.4,67.2 468.4,68.9 470.2,71.4 471.9,73.8Z M472.7,69.8 470.4,67.9 468.1,65.9 466.5,64.7 464.9,63.5 463.6,62.7 462.4,62.0 460.7,61.4 459.1,60.7 457.9,60.2 457.1,59.8 456.5,59.7 456.0,59.5 455.3,59.5 454.5,59.9 454.2,60.7 454.2,61.4 454.4,62.0 454.5,62.5 454.9,63.3 455.6,64.5 456.3,66.1 457.0,67.7 457.8,68.8 458.7,70.1 460.0,71.6 461.2,73.2 463.3,75.4 465.3,77.6Z M465.7,73.3 463.2,71.7 460.6,70.1 458.9,69.1 457.1,68.1 455.7,67.5 454.4,66.9 452.8,66.4 451.1,66.0 449.8,65.6 449.0,65.4 448.4,65.3 447.8,65.2 447.1,65.3 446.4,65.8 446.1,66.7 446.2,67.4 446.5,67.9 446.7,68.4 447.2,69.1 448.0,70.3 448.9,71.7 449.8,73.2 450.7,74.3 451.8,75.4 453.2,76.8 454.7,78.2 457.0,80.1 459.3,82.0Z M459.3,77.7 456.6,76.4 453.9,75.1 452.0,74.3 450.2,73.5 448.7,73.0 447.4,72.6 445.7,72.3 444.0,72.1 442.6,71.9 441.8,71.7 441.2,71.7 440.6,71.7 439.9,71.9 439.2,72.5 439.1,73.4 439.3,74.0 439.6,74.5 439.9,75.0 440.4,75.7 441.3,76.7 442.4,78.1 443.4,79.4 444.5,80.4 445.7,81.3 447.3,82.6 448.9,83.8 451.4,85.4 453.9,87.1Z M453.7,82.8 450.9,81.8 448.1,80.8 446.1,80.2 444.2,79.6 442.7,79.3 441.3,79.0 439.6,78.9 437.9,78.9 436.5,78.8 435.7,78.7 435.1,78.8 434.5,78.9 433.9,79.1 433.2,79.8 433.2,80.7 433.4,81.4 433.8,81.8 434.1,82.3 434.7,82.9 435.7,83.8 437.0,85.1 438.2,86.3 439.4,87.1 440.6,87.9 442.4,88.9 444.1,89.9 446.8,91.3 449.4,92.7Z M449.1,88.5 446.2,87.8 443.3,87.1 441.3,86.7 439.3,86.3 437.8,86.1 436.4,86.0 434.7,86.1 433.0,86.2 431.6,86.3 430.7,86.3 430.2,86.5 429.6,86.6 429.0,86.9 428.4,87.7 428.5,88.6 428.8,89.2 429.2,89.7 429.6,90.1 430.2,90.6 431.3,91.5 432.7,92.5 434.0,93.6 435.3,94.2 436.6,94.9 438.5,95.8 440.3,96.6 443.1,97.7 445.9,98.8Z M445.6,94.6 442.6,94.2 439.7,93.8 437.6,93.7 435.6,93.5 434.1,93.5 432.7,93.4 431.0,93.7 429.3,94.0 427.9,94.2 427.1,94.4 426.6,94.6 426.0,94.8 425.4,95.1 424.9,96.0 425.1,96.9 425.5,97.5 425.9,97.9 426.3,98.3 427.0,98.7 428.2,99.5 429.7,100.4 431.1,101.3 432.4,101.8 433.9,102.3 435.8,103.0 437.7,103.6 440.6,104.4 443.5,105.2Z M443.3,101.1 440.3,101.0 437.3,100.9 435.2,101.0 433.2,101.0 431.7,101.2 430.3,101.3 428.6,101.7 427.0,102.1 425.6,102.5 424.8,102.7 424.3,103.0 423.8,103.2 423.2,103.7 422.8,104.5 423.0,105.5 423.5,106.0 424.0,106.3 424.4,106.7 425.2,107.1 426.4,107.7 428.0,108.5 429.5,109.2 430.9,109.6 432.3,110.0 434.3,110.4 436.3,110.9 439.2,111.4 442.2,111.9Z M442.1,107.8 439.1,108.0 436.1,108.2 434.1,108.5 432.1,108.7 430.6,109.0 429.2,109.2 427.6,109.8 426.0,110.4 424.7,110.9 423.9,111.2 423.4,111.5 422.9,111.8 422.4,112.3 422.1,113.2 422.4,114.1 422.9,114.6 423.4,114.9 423.9,115.2 424.7,115.6 426.0,116.0 427.6,116.6 429.2,117.2 430.6,117.5 432.1,117.7 434.1,118.0 436.1,118.2 439.1,118.4 442.1,118.6Z M442.2,114.6 439.2,115.1 436.3,115.6 434.3,116.1 432.3,116.5 430.9,116.9 429.5,117.3 428.0,118.0 426.4,118.8 425.2,119.4 424.4,119.8 424.0,120.2 423.5,120.5 423.0,121.0 422.8,122.0 423.2,122.8 423.8,123.3 424.3,123.5 424.8,123.8 425.6,124.0 427.0,124.4 428.6,124.8 430.3,125.2 431.7,125.3 433.2,125.5 435.2,125.5 437.3,125.6 440.3,125.5 443.3,125.4Z M443.5,121.3 440.6,122.1 437.7,122.9 435.8,123.5 433.9,124.2 432.4,124.7 431.1,125.2 429.7,126.1 428.2,127.0 427.0,127.8 426.3,128.2 425.9,128.6 425.5,129.0 425.1,129.6 424.9,130.5 425.4,131.4 426.0,131.7 426.6,131.9 427.1,132.1 427.9,132.3 429.3,132.5 431.0,132.8 432.7,133.1 434.1,133.0 435.6,133.0 437.6,132.8 439.7,132.7 442.6,132.3 445.6,131.9Z M445.9,127.7 443.1,128.8 440.3,129.9 438.5,130.7 436.6,131.6 435.3,132.3 434.0,132.9 432.7,134.0 431.3,135.0 430.2,135.9 429.6,136.4 429.2,136.8 428.8,137.3 428.5,137.9 428.4,138.8 429.0,139.6 429.6,139.9 430.2,140.0 430.7,140.2 431.6,140.2 433.0,140.3 434.7,140.4 436.4,140.5 437.8,140.4 439.3,140.2 441.3,139.8 443.3,139.4 446.2,138.7 449.1,138.0Z M449.4,133.8 446.8,135.2 444.1,136.6 442.4,137.6 440.6,138.6 439.4,139.4 438.2,140.2 437.0,141.4 435.7,142.7 434.7,143.6 434.1,144.2 433.8,144.7 433.4,145.1 433.2,145.8 433.2,146.7 433.9,147.4 434.5,147.6 435.1,147.7 435.7,147.8 436.5,147.7 437.9,147.6 439.6,147.6 441.3,147.5 442.7,147.2 444.2,146.9 446.1,146.3 448.1,145.7 450.9,144.7 453.7,143.7Z M453.9,139.4 451.4,141.1 448.9,142.7 447.3,143.9 445.7,145.2 444.5,146.1 443.4,147.1 442.4,148.4 441.3,149.8 440.4,150.8 439.9,151.5 439.6,152.0 439.3,152.5 439.1,153.1 439.2,154.0 439.9,154.6 440.6,154.8 441.2,154.8 441.8,154.8 442.6,154.6 444.0,154.4 445.7,154.2 447.4,153.9 448.7,153.5 450.2,153.0 452.0,152.2 453.9,151.4 456.6,150.1 459.3,148.8Z M459.3,144.5 457.0,146.4 454.7,148.3 453.2,149.7 451.8,151.1 450.7,152.2 449.8,153.3 448.9,154.8 448.0,156.2 447.2,157.4 446.7,158.1 446.5,158.6 446.2,159.1 446.1,159.8 446.4,160.7 447.1,161.2 447.8,161.3 448.4,161.2 449.0,161.1 449.8,160.9 451.1,160.5 452.8,160.1 454.4,159.6 455.7,159.0 457.1,158.4 458.9,157.4 460.6,156.4 463.2,154.8 465.7,153.2Z M465.3,148.9 463.3,151.1 461.2,153.3 460.0,154.9 458.7,156.4 457.8,157.7 457.0,158.8 456.3,160.4 455.6,162.0 454.9,163.2 454.5,164.0 454.4,164.5 454.2,165.1 454.2,165.8 454.5,166.6 455.3,167.0 456.0,167.0 456.5,166.8 457.1,166.7 457.9,166.3 459.1,165.8 460.7,165.1 462.4,164.5 463.6,163.8 464.9,163.0 466.5,161.8 468.1,160.6 470.4,158.6 472.7,156.7Z M471.9,152.7 470.2,155.1 468.4,157.6 467.4,159.3 466.3,161.0 465.6,162.4 464.9,163.6 464.5,165.3 464.0,167.0 463.5,168.3 463.2,169.1 463.1,169.6 463.0,170.2 463.1,170.9 463.5,171.6 464.3,171.9 465.0,171.8 465.5,171.6 466.1,171.4 466.8,170.9 468.0,170.2 469.5,169.4 471.0,168.6 472.2,167.7 473.3,166.7 474.8,165.3 476.2,163.9 478.3,161.7 480.3,159.5Z M478.9,155.8 477.5,158.5 476.2,161.2 475.3,163.0 474.5,164.9 474.0,166.3 473.5,167.7 473.3,169.4 473.1,171.1 472.8,172.5 472.6,173.3 472.6,173.9 472.6,174.4 472.7,175.1 473.2,175.8 474.1,175.9 474.7,175.7 475.2,175.4 475.7,175.1 476.4,174.6 477.4,173.7 478.8,172.7 480.2,171.7 481.3,170.6 482.2,169.5 483.5,167.9 484.7,166.3 486.4,163.8 488.2,161.4Z M486.2,158.4 485.2,161.2 484.3,164.1 483.7,166.0 483.2,167.9 482.9,169.4 482.6,170.9 482.7,172.6 482.7,174.3 482.6,175.7 482.6,176.6 482.6,177.1 482.7,177.7 482.9,178.3 483.5,178.9 484.4,178.9 485.0,178.6 485.4,178.3 485.9,177.9 486.4,177.3 487.3,176.3 488.6,175.0 489.9,173.8 490.7,172.7 491.5,171.4 492.5,169.6 493.5,167.9 494.8,165.2 496.2,162.5Z M493.7,160.3 493.2,163.3 492.7,166.2 492.5,168.2 492.2,170.2 492.1,171.8 492.1,173.2 492.5,174.9 492.8,176.7 492.9,178.0 492.9,178.9 493.1,179.4 493.2,180.0 493.5,180.5 494.2,181.0 495.1,180.9 495.6,180.5 496.0,180.1 496.4,179.7 496.8,179.0 497.6,177.8 498.6,176.4 499.7,175.0 500.4,173.8 501.0,172.4 501.7,170.5 502.4,168.6 503.3,165.7 504.2,162.9Z M501.4,161.7 501.4,164.7 501.3,167.7 501.4,169.8 501.5,171.8 501.6,173.3 501.9,174.7 502.5,176.4 503.0,178.0 503.4,179.3 503.6,180.2 503.8,180.7 504.0,181.2 504.4,181.7 505.2,182.1 506.0,181.9 506.5,181.4 506.8,180.9 507.1,180.4 507.4,179.7 508.0,178.4 508.8,176.9 509.6,175.3 510.1,174.0 510.5,172.5 510.9,170.5 511.3,168.5 511.7,165.6 512.2,162.6Z M509.2,162.6 509.7,165.6 510.1,168.5 510.5,170.5 510.9,172.5 511.3,174.0 511.8,175.3 512.6,176.9 513.4,178.4 514.0,179.7 514.3,180.4 514.6,180.9 514.9,181.4 515.4,181.9 516.2,182.1 517.0,181.7 517.4,181.2 517.6,180.7 517.8,180.2 518.0,179.3 518.4,178.0 518.9,176.4 519.5,174.7 519.8,173.3 519.9,171.8 520.0,169.8 520.1,167.7 520.0,164.7 520.0,161.7Z M517.2,162.9 518.1,165.7 519.0,168.6 519.7,170.5 520.4,172.4 521.0,173.8 521.7,175.0 522.8,176.4 523.8,177.8 524.6,179.0 525.0,179.7 525.4,180.1 525.8,180.5 526.3,180.9 527.2,181.0 527.9,180.5 528.2,180.0 528.3,179.4 528.5,178.9 528.5,178.0 528.6,176.7 528.9,174.9 529.3,173.2 529.3,171.8 529.2,170.2 528.9,168.2 528.7,166.2 528.2,163.3 527.7,160.3Z M525.2,162.5 526.6,165.2 527.9,167.9 528.9,169.6 529.9,171.4 530.7,172.7 531.5,173.8 532.8,175.0 534.1,176.3 535.0,177.3 535.5,177.9 536.0,178.3 536.4,178.6 537.0,178.9 537.9,178.9 538.5,178.3 538.7,177.7 538.8,177.1 538.8,176.6 538.8,175.7 538.7,174.3 538.7,172.6 538.8,170.9 538.5,169.4 538.2,167.9 537.7,166.0 537.1,164.1 536.2,161.2 535.2,158.4Z M533.2,161.4 535.0,163.8 536.7,166.3 537.9,167.9 539.2,169.5 540.1,170.6 541.2,171.7 542.6,172.7 544.0,173.7 545.0,174.6 545.7,175.1 546.2,175.4 546.7,175.7 547.3,175.9 548.2,175.8 548.7,175.1 548.8,174.4 548.8,173.9 548.8,173.3 548.6,172.5 548.3,171.1 548.1,169.4 547.9,167.7 547.4,166.3 546.9,164.9 546.1,163.0 545.2,161.2 543.9,158.5 542.5,155.8Z M541.1,159.5 543.1,161.7 545.2,163.9 546.6,165.3 548.1,166.7 549.2,167.7 550.4,168.6 551.9,169.4 553.4,170.2 554.6,170.9 555.3,171.4 555.9,171.6 556.4,171.8 557.1,171.9 557.9,171.6 558.3,170.9 558.4,170.2 558.3,169.6 558.2,169.1 557.9,168.3 557.4,167.0 556.9,165.3 556.5,163.6 555.8,162.4 555.1,161.0 554.0,159.3 553.0,157.6 551.2,155.1 549.5,152.7Z M548.7,156.7 551.0,158.6 553.3,160.6 554.9,161.8 556.5,163.0 557.8,163.8 559.0,164.5 560.7,165.1 562.3,165.8 563.5,166.3 564.3,166.7 564.9,166.8 565.4,167.0 566.1,167.0 566.9,166.6 567.2,165.8 567.2,165.1 567.0,164.5 566.9,164.0 566.5,163.2 565.8,162.0 565.1,160.4 564.4,158.8 563.6,157.7 562.7,156.4 561.4,154.9 560.2,153.3 558.1,151.1 556.1,148.9Z M555.7,153.2 558.2,154.8 560.8,156.4 562.5,157.4 564.3,158.4 565.7,159.0 567.0,159.6 568.6,160.1 570.3,160.5 571.6,160.9 572.4,161.1 573.0,161.2 573.6,161.3 574.3,161.2 575.0,160.7 575.3,159.8 575.2,159.1 574.9,158.6 574.7,158.1 574.2,157.4 573.4,156.2 572.5,154.8 571.6,153.3 570.7,152.2 569.6,151.1 568.2,149.7 566.7,148.3 564.4,146.4 562.1,144.5Z M562.1,148.8 564.8,150.1 567.5,151.4 569.4,152.2 571.2,153.0 572.7,153.5 574.0,153.9 575.7,154.2 577.4,154.4 578.8,154.6 579.6,154.8 580.2,154.8 580.8,154.8 581.5,154.6 582.2,154.0 582.3,153.1 582.1,152.5 581.8,152.0 581.5,151.5 581.0,150.8 580.1,149.8 579.0,148.4 578.0,147.1 576.9,146.1 575.7,145.2 574.1,143.9 572.5,142.7 570.0,141.1 567.5,139.4Z M567.7,143.7 570.5,144.7 573.3,145.7 575.3,146.3 577.2,146.9 578.7,147.2 580.1,147.5 581.8,147.6 583.5,147.6 584.9,147.7 585.7,147.8 586.3,147.7 586.9,147.6 587.5,147.4 588.2,146.7 588.2,145.8 588.0,145.1 587.6,144.7 587.3,144.2 586.7,143.6 585.7,142.7 584.4,141.4 583.2,140.2 582.0,139.4 580.8,138.6 579.0,137.6 577.3,136.6 574.6,135.2 572.0,133.8Z M572.3,138.0 575.2,138.7 578.1,139.4 580.1,139.8 582.1,140.2 583.6,140.4 585.0,140.5 586.7,140.4 588.4,140.3 589.8,140.2 590.7,140.2 591.2,140.0 591.8,139.9 592.4,139.6 593.0,138.8 592.9,137.9 592.6,137.3 592.2,136.8 591.8,136.4 591.2,135.9 590.1,135.0 588.7,134.0 587.4,132.9 586.1,132.3 584.8,131.6 582.9,130.7 581.1,129.9 578.3,128.8 575.5,127.7Z M575.8,131.9 578.8,132.3 581.7,132.7 583.8,132.8 585.8,133.0 587.3,133.0 588.7,133.1 590.4,132.8 592.1,132.5 593.5,132.3 594.3,132.1 594.8,131.9 595.4,131.7 596.0,131.4 596.5,130.5 596.3,129.6 595.9,129.0 595.5,128.6 595.1,128.2 594.4,127.8 593.2,127.0 591.7,126.1 590.3,125.2 589.0,124.7 587.5,124.2 585.6,123.5 583.7,122.9 580.8,122.1 577.9,121.3Z M578.1,125.4 581.1,125.5 584.1,125.6 586.2,125.5 588.2,125.5 589.7,125.3 591.1,125.2 592.8,124.8 594.4,124.4 595.8,124.0 596.6,123.8 597.1,123.5 597.6,123.3 598.2,122.8 598.6,122.0 598.4,121.0 597.9,120.5 597.4,120.2 597.0,119.8 596.2,119.4 595.0,118.8 593.4,118.0 591.9,117.3 590.5,116.9 589.1,116.5 587.1,116.1 585.1,115.6 582.2,115.1 579.2,114.6Z"/>
</g>
<text transform="translate(652.5,130) rotate(90)" text-anchor="middle" font-size="14.9" font-style="italic">mm</text>
<text x="506" y="242.4" font-size="14.9" text-anchor="middle" font-style="italic">mm</text>
<text x="503.6" y="266.2" font-size="20" text-anchor="middle">(b)</text>
<line x1="77.5" y1="508.6" x2="77.5" y2="506" stroke="#2a2a2a" stroke-width="1"/>
<line x1="77.5" y1="302.8" x2="77.5" y2="305.4" stroke="#2a2a2a" stroke-width="1"/>
<text x="77.5" y="518.8" font-size="8.5" text-anchor="middle">0</text>
<line x1="110.25" y1="508.6" x2="110.25" y2="506" stroke="#2a2a2a" stroke-width="1"/>
<line x1="110.25" y1="302.8" x2="110.25" y2="305.4" stroke="#2a2a2a" stroke-width="1"/>
<text x="110.25" y="518.8" font-size="8.5" text-anchor="middle">5</text>
<line x1="143" y1="508.6" x2="143" y2="506" stroke="#2a2a2a" stroke-width="1"/>
<line x1="143" y1="302.8" x2="143" y2="305.4" stroke="#2a2a2a" stroke-width="1"/>
<text x="143" y="518.8" font-size="8.5" text-anchor="middle">10</text>
<line x1="175.75" y1="508.6" x2="175.75" y2="506" stroke="#2a2a2a" stroke-width="1"/>
<line x1="175.75" y1="302.8" x2="175.75" y2="305.4" stroke="#2a2a2a" stroke-width="1"/>
<text x="175.75" y="518.8" font-size="8.5" text-anchor="middle">15</text>
<line x1="208.5" y1="508.6" x2="208.5" y2="506" stroke="#2a2a2a" stroke-width="1"/>
<line x1="208.5" y1="302.8" x2="208.5" y2="305.4" stroke="#2a2a2a" stroke-width="1"/>
<text x="208.5" y="518.8" font-size="8.5" text-anchor="middle">20</text>
<line x1="241.25" y1="508.6" x2="241.25" y2="506" stroke="#2a2a2a" stroke-width="1"/>
<line x1="241.25" y1="302.8" x2="241.25" y2="305.4" stroke="#2a2a2a" stroke-width="1"/>
<text x="241.25" y="518.8" font-size="8.5" text-anchor="middle">25</text>
<line x1="274" y1="508.6" x2="274" y2="506" stroke="#2a2a2a" stroke-width="1"/>
<line x1="274" y1="302.8" x2="274" y2="305.4" stroke="#2a2a2a" stroke-width="1"/>
<text x="274" y="518.8" font-size="8.5" text-anchor="middle">30</text>
<line x1="306.75" y1="508.6" x2="306.75" y2="506" stroke="#2a2a2a" stroke-width="1"/>
<line x1="306.75" y1="302.8" x2="306.75" y2="305.4" stroke="#2a2a2a" stroke-width="1"/>
<text x="306.75" y="518.8" font-size="8.5" text-anchor="middle">35</text>
<line x1="339.5" y1="508.6" x2="339.5" y2="506" stroke="#2a2a2a" stroke-width="1"/>
<line x1="339.5" y1="302.8" x2="339.5" y2="305.4" stroke="#2a2a2a" stroke-width="1"/>
<text x="339.5" y="518.8" font-size="8.5" text-anchor="middle">40</text>
<line x1="77.5" y1="508.6" x2="80.1" y2="508.6" stroke="#2a2a2a" stroke-width="1"/>
<line x1="339.5" y1="508.6" x2="336.9" y2="508.6" stroke="#2a2a2a" stroke-width="1"/>
<text x="74.8" y="511.6" font-size="8.5" text-anchor="end">0</text>
<line x1="77.5" y1="474.3" x2="80.1" y2="474.3" stroke="#2a2a2a" stroke-width="1"/>
<line x1="339.5" y1="474.3" x2="336.9" y2="474.3" stroke="#2a2a2a" stroke-width="1"/>
<text x="74.8" y="477.3" font-size="8.5" text-anchor="end">0.5</text>
<line x1="77.5" y1="440" x2="80.1" y2="440" stroke="#2a2a2a" stroke-width="1"/>
<line x1="339.5" y1="440" x2="336.9" y2="440" stroke="#2a2a2a" stroke-width="1"/>
<text x="74.8" y="443" font-size="8.5" text-anchor="end">1</text>
<line x1="77.5" y1="405.7" x2="80.1" y2="405.7" stroke="#2a2a2a" stroke-width="1"/>
<line x1="339.5" y1="405.7" x2="336.9" y2="405.7" stroke="#2a2a2a" stroke-width="1"/>
<text x="74.8" y="408.7" font-size="8.5" text-anchor="end">1.5</text>
<line x1="77.5" y1="371.4" x2="80.1" y2="371.4" stroke="#2a2a2a" stroke-width="1"/>
<line x1="339.5" y1="371.4" x2="336.9" y2="371.4" stroke="#2a2a2a" stroke-width="1"/>
<text x="74.8" y="374.4" font-size="8.5" text-anchor="end">2</text>
<line x1="77.5" y1="337.1" x2="80.1" y2="337.1" stroke="#2a2a2a" stroke-width="1"/>
<line x1="339.5" y1="337.1" x2="336.9" y2="337.1" stroke="#2a2a2a" stroke-width="1"/>
<text x="74.8" y="340.1" font-size="8.5" text-anchor="end">2.5</text>
<line x1="77.5" y1="302.8" x2="80.1" y2="302.8" stroke="#2a2a2a" stroke-width="1"/>
<line x1="339.5" y1="302.8" x2="336.9" y2="302.8" stroke="#2a2a2a" stroke-width="1"/>
<text x="77.8" y="298.9" font-size="8.5" text-anchor="start">x</text>
<text x="85.5" y="298.9" font-size="8.5" text-anchor="start">10</text>
<text x="94.6" y="294.8" font-size="5" text-anchor="start">10</text>
<rect x="77.5" y="302.8" width="262" height="205.8" fill="none" stroke="#2a2a2a" stroke-width="1"/>
<path fill="none" stroke="#5050d8" stroke-width="1.2" stroke-linejoin="round" d="M77.50,508.60 L211.10,508.60 L211.96,507.20 L212.82,504.93 L213.67,502.35 L214.53,499.50 L215.39,496.39 L216.25,493.04 L217.10,489.49 L217.96,485.76 L218.82,481.87 L219.68,477.85 L220.53,473.72 L221.39,469.50 L222.25,465.23 L223.11,460.93 L223.96,456.61 L224.82,452.31 L225.68,448.05 L226.54,443.86 L227.39,439.74 L228.25,435.71 L229.11,431.76 L229.97,427.90 L230.82,424.11 L231.68,420.40 L232.54,416.77 L233.40,413.22 L234.25,409.75 L235.11,406.36 L235.97,403.04 L236.83,399.80 L237.68,396.64 L238.54,393.55 L239.40,390.54 L240.26,387.60 L241.12,384.73 L241.97,381.94 L242.83,379.22 L243.69,376.57 L244.55,374.00 L245.40,371.49 L246.26,369.06 L247.12,366.69 L247.98,364.39 L248.83,362.16 L249.69,360.00 L250.55,357.90 L251.41,355.86 L252.26,353.89 L253.12,351.98 L253.98,350.13 L254.84,348.34 L255.69,346.62 L256.55,344.95 L257.41,343.34 L258.27,341.78 L259.12,340.28 L259.98,338.84 L260.84,337.45 L261.70,336.11 L262.55,334.83 L263.41,333.59 L264.27,332.41 L265.13,331.28 L265.98,330.19 L266.84,329.15 L267.70,328.16 L268.56,327.21 L269.42,326.31 L270.27,325.45 L271.13,324.64 L271.99,323.86 L272.85,323.13 L273.70,322.44 L274.56,321.78 L275.42,321.17 L276.28,320.59 L277.13,320.04 L277.99,319.53 L278.85,319.06 L279.71,318.62 L280.56,318.21 L281.42,317.83 L282.28,317.49 L283.14,317.17 L283.99,316.88 L284.85,316.62 L285.71,316.38 L286.57,316.18 L287.00,315.80 L339.50,315.80"/>
<g font-style="italic" font-size="14.9">
<text transform="translate(37.8,419.2) rotate(-90)" text-anchor="middle">n(r)</text>
<text transform="translate(56.5,417.6) rotate(-90)" text-anchor="middle">(mol/mm<tspan dy="-9.5" font-size="10">3</tspan><tspan dy="9.5">)</tspan></text>
</g>
<text x="196.2" y="537.7" font-size="14.9" text-anchor="middle" font-style="italic">r(mm)</text>
<text x="194.8" y="562.9" font-size="20" text-anchor="middle">(c)</text>
<line x1="379.7" y1="508.4" x2="379.7" y2="505.8" stroke="#2a2a2a" stroke-width="1"/>
<line x1="379.7" y1="302.8" x2="379.7" y2="305.4" stroke="#2a2a2a" stroke-width="1"/>
<text x="379.7" y="518.8" font-size="8.5" text-anchor="middle">0</text>
<line x1="412.45" y1="508.4" x2="412.45" y2="505.8" stroke="#2a2a2a" stroke-width="1"/>
<line x1="412.45" y1="302.8" x2="412.45" y2="305.4" stroke="#2a2a2a" stroke-width="1"/>
<text x="412.45" y="518.8" font-size="8.5" text-anchor="middle">5</text>
<line x1="445.2" y1="508.4" x2="445.2" y2="505.8" stroke="#2a2a2a" stroke-width="1"/>
<line x1="445.2" y1="302.8" x2="445.2" y2="305.4" stroke="#2a2a2a" stroke-width="1"/>
<text x="445.2" y="518.8" font-size="8.5" text-anchor="middle">10</text>
<line x1="477.95" y1="508.4" x2="477.95" y2="505.8" stroke="#2a2a2a" stroke-width="1"/>
<line x1="477.95" y1="302.8" x2="477.95" y2="305.4" stroke="#2a2a2a" stroke-width="1"/>
<text x="477.95" y="518.8" font-size="8.5" text-anchor="middle">15</text>
<line x1="510.7" y1="508.4" x2="510.7" y2="505.8" stroke="#2a2a2a" stroke-width="1"/>
<line x1="510.7" y1="302.8" x2="510.7" y2="305.4" stroke="#2a2a2a" stroke-width="1"/>
<text x="510.7" y="518.8" font-size="8.5" text-anchor="middle">20</text>
<line x1="543.45" y1="508.4" x2="543.45" y2="505.8" stroke="#2a2a2a" stroke-width="1"/>
<line x1="543.45" y1="302.8" x2="543.45" y2="305.4" stroke="#2a2a2a" stroke-width="1"/>
<text x="543.45" y="518.8" font-size="8.5" text-anchor="middle">25</text>
<line x1="576.2" y1="508.4" x2="576.2" y2="505.8" stroke="#2a2a2a" stroke-width="1"/>
<line x1="576.2" y1="302.8" x2="576.2" y2="305.4" stroke="#2a2a2a" stroke-width="1"/>
<text x="576.2" y="518.8" font-size="8.5" text-anchor="middle">30</text>
<line x1="608.95" y1="508.4" x2="608.95" y2="505.8" stroke="#2a2a2a" stroke-width="1"/>
<line x1="608.95" y1="302.8" x2="608.95" y2="305.4" stroke="#2a2a2a" stroke-width="1"/>
<text x="608.95" y="518.8" font-size="8.5" text-anchor="middle">35</text>
<line x1="641.7" y1="508.4" x2="641.7" y2="505.8" stroke="#2a2a2a" stroke-width="1"/>
<line x1="641.7" y1="302.8" x2="641.7" y2="305.4" stroke="#2a2a2a" stroke-width="1"/>
<text x="641.7" y="518.8" font-size="8.5" text-anchor="middle">40</text>
<line x1="379.7" y1="508.4" x2="382.3" y2="508.4" stroke="#2a2a2a" stroke-width="1"/>
<line x1="641.7" y1="508.4" x2="639.1" y2="508.4" stroke="#2a2a2a" stroke-width="1"/>
<text x="377.4" y="511.4" font-size="8.5" text-anchor="end">0</text>
<line x1="379.7" y1="485.56" x2="382.3" y2="485.56" stroke="#2a2a2a" stroke-width="1"/>
<line x1="641.7" y1="485.56" x2="639.1" y2="485.56" stroke="#2a2a2a" stroke-width="1"/>
<text x="377.4" y="488.56" font-size="8.5" text-anchor="end">1</text>
<line x1="379.7" y1="462.71" x2="382.3" y2="462.71" stroke="#2a2a2a" stroke-width="1"/>
<line x1="641.7" y1="462.71" x2="639.1" y2="462.71" stroke="#2a2a2a" stroke-width="1"/>
<text x="377.4" y="465.71" font-size="8.5" text-anchor="end">2</text>
<line x1="379.7" y1="439.87" x2="382.3" y2="439.87" stroke="#2a2a2a" stroke-width="1"/>
<line x1="641.7" y1="439.87" x2="639.1" y2="439.87" stroke="#2a2a2a" stroke-width="1"/>
<text x="377.4" y="442.87" font-size="8.5" text-anchor="end">3</text>
<line x1="379.7" y1="417.02" x2="382.3" y2="417.02" stroke="#2a2a2a" stroke-width="1"/>
<line x1="641.7" y1="417.02" x2="639.1" y2="417.02" stroke="#2a2a2a" stroke-width="1"/>
<text x="377.4" y="420.02" font-size="8.5" text-anchor="end">4</text>
<line x1="379.7" y1="394.18" x2="382.3" y2="394.18" stroke="#2a2a2a" stroke-width="1"/>
<line x1="641.7" y1="394.18" x2="639.1" y2="394.18" stroke="#2a2a2a" stroke-width="1"/>
<text x="377.4" y="397.18" font-size="8.5" text-anchor="end">5</text>
<line x1="379.7" y1="371.33" x2="382.3" y2="371.33" stroke="#2a2a2a" stroke-width="1"/>
<line x1="641.7" y1="371.33" x2="639.1" y2="371.33" stroke="#2a2a2a" stroke-width="1"/>
<text x="377.4" y="374.33" font-size="8.5" text-anchor="end">6</text>
<line x1="379.7" y1="348.49" x2="382.3" y2="348.49" stroke="#2a2a2a" stroke-width="1"/>
<line x1="641.7" y1="348.49" x2="639.1" y2="348.49" stroke="#2a2a2a" stroke-width="1"/>
<text x="377.4" y="351.49" font-size="8.5" text-anchor="end">7</text>
<line x1="379.7" y1="325.64" x2="382.3" y2="325.64" stroke="#2a2a2a" stroke-width="1"/>
<line x1="641.7" y1="325.64" x2="639.1" y2="325.64" stroke="#2a2a2a" stroke-width="1"/>
<text x="377.4" y="328.64" font-size="8.5" text-anchor="end">8</text>
<line x1="379.7" y1="302.8" x2="382.3" y2="302.8" stroke="#2a2a2a" stroke-width="1"/>
<line x1="641.7" y1="302.8" x2="639.1" y2="302.8" stroke="#2a2a2a" stroke-width="1"/>
<text x="377.4" y="305.8" font-size="8.5" text-anchor="end">9</text>
<text x="380.2" y="298.9" font-size="8.5" text-anchor="start">x</text>
<text x="387.9" y="298.9" font-size="8.5" text-anchor="start">10</text>
<text x="397" y="294.8" font-size="5" text-anchor="start">-9</text>
<rect x="379.7" y="302.8" width="262" height="205.6" fill="none" stroke="#2a2a2a" stroke-width="1"/>
<path fill="none" stroke="#e040e0" stroke-width="1.2" stroke-linejoin="round" d="M379.70,508.30 L511.00,508.30 L512.20,503.91 L513.40,499.45 L514.60,494.92 L515.80,490.30 L517.00,485.53 L518.19,480.73 L519.39,476.01 L520.59,471.45 L521.79,466.98 L522.99,462.59 L524.19,458.28 L525.39,454.06 L526.59,449.93 L527.79,445.88 L528.99,441.89 L530.19,437.97 L531.38,434.15 L532.58,430.41 L533.78,426.76 L534.98,423.17 L536.18,419.65 L537.38,416.20 L538.58,412.83 L539.78,409.54 L540.98,406.34 L542.18,403.22 L543.38,400.16 L544.57,397.15 L545.77,394.22 L546.97,391.36 L548.17,388.58 L549.37,385.88 L550.57,383.27 L551.77,380.72 L552.97,378.22 L554.17,375.77 L555.37,373.39 L556.57,371.09 L557.76,368.85 L558.96,366.70 L560.16,364.64 L561.36,362.63 L562.56,360.67 L563.76,358.75 L564.96,356.89 L566.16,355.08 L567.36,353.32 L568.56,351.63 L569.76,350.00 L570.95,348.45 L572.15,346.96 L573.35,345.52 L574.55,344.12 L575.75,342.76 L576.95,341.44 L578.15,340.16 L579.35,338.93 L580.55,337.74 L581.75,336.60 L582.94,335.52 L584.14,334.49 L585.34,333.51 L586.54,332.56 L587.74,331.65 L588.94,330.76 L590.14,329.91 L591.34,329.09 L592.54,328.30 L593.74,327.55 L594.94,326.84 L596.13,326.16 L597.33,325.53 L598.53,324.93 L599.73,324.36 L600.93,323.81 L602.13,323.27 L603.33,322.77 L604.53,322.28 L605.73,321.81 L606.93,321.36 L608.13,320.93 L609.32,320.53 L610.52,320.14 L611.72,319.77 L612.92,319.42 L614.12,319.08 L615.32,318.75 L616.52,318.44 L617.72,318.14 L618.92,317.85 L620.12,317.57 L621.32,317.30 L622.51,317.05 L623.71,316.81 L624.91,316.58 L626.11,316.36 L627.31,316.16 L628.51,315.95 L629.71,315.75 L630.91,315.56 L632.11,315.38 L633.31,315.20 L634.51,315.03 L635.70,314.86 L636.90,314.71 L638.10,314.57 L639.30,314.43 L640.50,314.31 L641.70,314.20"/>
<g font-style="italic" font-size="14.9">
<text transform="translate(671.5,424.8) rotate(90)" text-anchor="middle">gl(r)</text>
<text transform="translate(652,424.4) rotate(90)" text-anchor="middle">(mol/mm<tspan dy="-9.5" font-size="10">3</tspan><tspan dy="9.5">)</tspan></text>
</g>
<text x="502" y="537.7" font-size="14.9" text-anchor="middle" font-style="italic">r(mm)</text>
<text x="510.5" y="562.9" font-size="20" text-anchor="middle">(d)</text>
</svg>
</body></html>
